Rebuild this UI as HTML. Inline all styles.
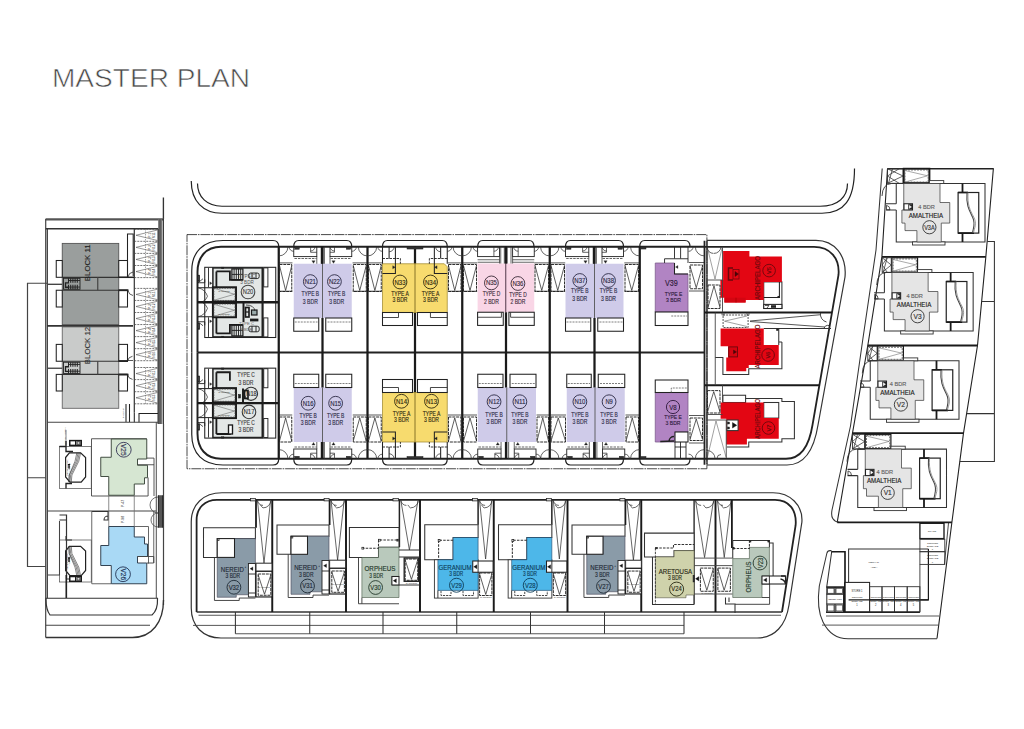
<!DOCTYPE html>
<html><head><meta charset="utf-8"><title>Master Plan</title>
<style>
html,body{margin:0;padding:0;background:#fff;}
body{width:1024px;height:729px;overflow:hidden;font-family:"Liberation Sans",sans-serif;}
svg{display:block;font-family:"Liberation Sans",sans-serif;}
</style></head><body>
<svg width="1024" height="729" viewBox="0 0 1024 729">
<rect width="1024" height="729" fill="#fff"/>
<text x="52" y="87" font-size="25.6" fill="#4a4a4a" stroke="#fff" stroke-width="0.6" paint-order="fill stroke" textLength="198" lengthAdjust="spacingAndGlyphs">MASTER PLAN</text>
<path d="M197.5,183.5 C197.5,197 207,206.25 222,206.25 H820 C838,206.25 847.5,197 847.5,183.5" fill="none" stroke="#222" stroke-width="1.20" />
<path d="M191.25,181 C191.25,201 203,213.25 222,213.25 H822 C844,213.25 854.5,200 854.5,168.5" fill="none" stroke="#222" stroke-width="1.20" />
<rect x="187.00" y="234.60" width="519.90" height="234.15" fill="none" stroke="#222" stroke-width="0.83" stroke-dasharray="10 0.9 1.6 0.9"/>
<path d="M197.5,352.5 V272 C197.5,257 206,246.75 221,246.75 H705" fill="none" stroke="#222" stroke-width="1.95" />
<path d="M197.5,352.5 V433.5 C197.5,448.5 206,458.75 221,458.75 H705" fill="none" stroke="#222" stroke-width="1.95" />
<path d="M191.75,352.5 V271 C191.75,252 203,240.5 223,240.5 H273 Q278.75,240.5 278.75,246.75" fill="none" stroke="#222" stroke-width="1.20" />
<path d="M191.75,352.5 V434.5 C191.75,453.5 203,465 223,465 H273 Q278.75,465 278.75,458.75" fill="none" stroke="#222" stroke-width="1.20" />
<path d="M293.75,246.75 Q293.75,240.5 298.75,240.5 H346.75 Q351.75,240.5 351.75,246.75" fill="none" stroke="#222" stroke-width="1.20" />
<path d="M293.75,458.75 Q293.75,465 298.75,465 H346.75 Q351.75,465 351.75,458.75" fill="none" stroke="#222" stroke-width="1.20" />
<path d="M382.5,246.75 Q382.5,240.5 387.5,240.5 H442.25 Q447.25,240.5 447.25,246.75" fill="none" stroke="#222" stroke-width="1.20" />
<path d="M382.5,458.75 Q382.5,465 387.5,465 H442.25 Q447.25,465 447.25,458.75" fill="none" stroke="#222" stroke-width="1.20" />
<path d="M477.75,246.75 Q477.75,240.5 482.75,240.5 H529 Q534,240.5 534,246.75" fill="none" stroke="#222" stroke-width="1.20" />
<path d="M477.75,458.75 Q477.75,465 482.75,465 H529 Q534,465 534,458.75" fill="none" stroke="#222" stroke-width="1.20" />
<path d="M565.5,246.75 Q565.5,240.5 570.5,240.5 H618.5 Q623.5,240.5 623.5,246.75" fill="none" stroke="#222" stroke-width="1.20" />
<path d="M565.5,458.75 Q565.5,465 570.5,465 H618.5 Q623.5,465 623.5,458.75" fill="none" stroke="#222" stroke-width="1.20" />
<path d="M639.75,246.75 Q639.75,240.5 644.75,240.5 H685 Q690,240.5 690,246.75" fill="none" stroke="#222" stroke-width="1.20" />
<path d="M639.75,458.75 Q639.75,465 644.75,465 H685 Q690,465 690,458.75" fill="none" stroke="#222" stroke-width="1.20" />
<line x1="197.5" y1="352.5" x2="705" y2="352.5" stroke="#222" stroke-width="1.80" />
<line x1="278.75" y1="246.75" x2="278.75" y2="458.75" stroke="#1a1a1a" stroke-width="2.25" />
<line x1="322.5" y1="246.75" x2="322.5" y2="458.75" stroke="#1a1a1a" stroke-width="2.25" />
<line x1="367.5" y1="246.75" x2="367.5" y2="458.75" stroke="#1a1a1a" stroke-width="2.25" />
<line x1="415" y1="246.75" x2="415" y2="458.75" stroke="#1a1a1a" stroke-width="2.25" />
<line x1="462.25" y1="246.75" x2="462.25" y2="458.75" stroke="#1a1a1a" stroke-width="2.25" />
<line x1="506" y1="246.75" x2="506" y2="458.75" stroke="#1a1a1a" stroke-width="2.25" />
<line x1="549.75" y1="246.75" x2="549.75" y2="458.75" stroke="#1a1a1a" stroke-width="2.25" />
<line x1="594.5" y1="246.75" x2="594.5" y2="458.75" stroke="#1a1a1a" stroke-width="2.25" />
<line x1="639.75" y1="246.75" x2="639.75" y2="458.75" stroke="#1a1a1a" stroke-width="2.25" />
<line x1="704.5" y1="240.75" x2="704.5" y2="464.75" stroke="#222" stroke-width="1.80" />
<line x1="707" y1="240.75" x2="707" y2="464.75" stroke="#222" stroke-width="1.20" />
<rect x="293.75" y="263.75" width="58.00" height="54.25" fill="#cfcbe9"/>
<line x1="322.5" y1="263.75" x2="322.5" y2="318" stroke="#555" stroke-width="0.90" />
<rect x="293.75" y="318.00" width="25.00" height="13.25" fill="#fff" stroke="#222" stroke-width="1.05" />
<rect x="325.75" y="318.00" width="26.00" height="13.25" fill="#fff" stroke="#222" stroke-width="1.05" />
<line x1="294.75" y1="322" x2="317.5" y2="322" stroke="#555" stroke-width="0.75" stroke-dasharray="2 1"/>
<line x1="327.5" y1="322" x2="350.75" y2="322" stroke="#555" stroke-width="0.75" stroke-dasharray="2 1"/>
<rect x="293.75" y="246.75" width="23.05" height="9.85" fill="none" stroke="#222" stroke-width="0.90" />
<rect x="330.00" y="246.75" width="21.75" height="9.85" fill="none" stroke="#222" stroke-width="0.90" />
<path d="M310.6,246.75 V252.3 H316.8 M334.5,246.75 V252.3 H330.0 M310.6,251.05 a4.3,4.3 0 0 0 4.3,-4.3 M334.5,251.05 a4.3,4.3 0 0 1 -4.3,-4.3" fill="none" stroke="#333" stroke-width="0.75" />
<path d="M294.45,258.5 H316.5 M330.5,258.5 H351.05" fill="none" stroke="#333" stroke-width="0.75" stroke-dasharray="2.5 1"/>
<path d="M316.8,256.6 V263.75 M330.0,256.6 V263.75 M324.4,246.75 V263.75" fill="none" stroke="#333" stroke-width="0.75" />
<line x1="321.9" y1="246.75" x2="321.9" y2="263.75" stroke="#1a1a1a" stroke-width="2.25" />
<rect x="294.75" y="247.25" width="4.50" height="2.00" fill="#333" stroke="#222" stroke-width="0.45" />
<rect x="346.25" y="247.25" width="4.50" height="2.00" fill="#333" stroke="#222" stroke-width="0.45" />
<path d="M311.9,260.75 l1.6,2.6 l1.6,-2.6 z" fill="#222" stroke="#222" stroke-width="0.30" />
<path d="M331.9,260.75 l1.6,2.6 l1.6,-2.6 z" fill="#222" stroke="#222" stroke-width="0.30" />
<circle cx="310.325" cy="281.6" r="6.9" fill="none" stroke="#2c2a45" stroke-width="0.90"/>
<text x="310.325" y="284.12" font-size="7" fill="#2c2a45" stroke="#2c2a45" stroke-width="0.15" text-anchor="middle" font-weight="normal" textLength="11.0" lengthAdjust="spacingAndGlyphs">N21</text>
<text x="310.325" y="296.392" font-size="7.2" fill="#2c2a45" stroke="#2c2a45" stroke-width="0.15" text-anchor="middle" font-weight="normal" textLength="17.5" lengthAdjust="spacingAndGlyphs">TYPE B</text>
<text x="310.325" y="303.592" font-size="7.2" fill="#2c2a45" stroke="#2c2a45" stroke-width="0.15" text-anchor="middle" font-weight="normal" textLength="15.0" lengthAdjust="spacingAndGlyphs">3 BDR</text>
<circle cx="334.425" cy="281.6" r="6.9" fill="none" stroke="#2c2a45" stroke-width="0.90"/>
<text x="334.425" y="284.12" font-size="7" fill="#2c2a45" stroke="#2c2a45" stroke-width="0.15" text-anchor="middle" font-weight="normal" textLength="11.0" lengthAdjust="spacingAndGlyphs">N22</text>
<text x="336.625" y="296.392" font-size="7.2" fill="#2c2a45" stroke="#2c2a45" stroke-width="0.15" text-anchor="middle" font-weight="normal" textLength="17.5" lengthAdjust="spacingAndGlyphs">TYPE B</text>
<text x="336.625" y="303.592" font-size="7.2" fill="#2c2a45" stroke="#2c2a45" stroke-width="0.15" text-anchor="middle" font-weight="normal" textLength="15.0" lengthAdjust="spacingAndGlyphs">3 BDR</text>
<rect x="565.50" y="263.75" width="58.00" height="54.25" fill="#cfcbe9"/>
<line x1="594.5" y1="263.75" x2="594.5" y2="318" stroke="#555" stroke-width="0.90" />
<rect x="565.50" y="318.00" width="25.25" height="13.25" fill="#fff" stroke="#222" stroke-width="1.05" />
<rect x="597.75" y="318.00" width="25.75" height="13.25" fill="#fff" stroke="#222" stroke-width="1.05" />
<line x1="566.5" y1="322" x2="589.5" y2="322" stroke="#555" stroke-width="0.75" stroke-dasharray="2 1"/>
<line x1="599.5" y1="322" x2="622.5" y2="322" stroke="#555" stroke-width="0.75" stroke-dasharray="2 1"/>
<rect x="565.50" y="246.75" width="23.30" height="9.85" fill="none" stroke="#222" stroke-width="0.90" />
<rect x="602.00" y="246.75" width="21.50" height="9.85" fill="none" stroke="#222" stroke-width="0.90" />
<path d="M582.6,246.75 V252.3 H588.8 M606.5,246.75 V252.3 H602.0 M582.6,251.05 a4.3,4.3 0 0 0 4.3,-4.3 M606.5,251.05 a4.3,4.3 0 0 1 -4.3,-4.3" fill="none" stroke="#333" stroke-width="0.75" />
<path d="M566.2,258.5 H588.5 M602.5,258.5 H622.8" fill="none" stroke="#333" stroke-width="0.75" stroke-dasharray="2.5 1"/>
<path d="M588.8,256.6 V263.75 M602.0,256.6 V263.75 M596.4,246.75 V263.75" fill="none" stroke="#333" stroke-width="0.75" />
<line x1="593.9" y1="246.75" x2="593.9" y2="263.75" stroke="#1a1a1a" stroke-width="2.25" />
<rect x="566.50" y="247.25" width="4.50" height="2.00" fill="#333" stroke="#222" stroke-width="0.45" />
<rect x="618.00" y="247.25" width="4.50" height="2.00" fill="#333" stroke="#222" stroke-width="0.45" />
<path d="M583.9,260.75 l1.6,2.6 l1.6,-2.6 z" fill="#222" stroke="#222" stroke-width="0.30" />
<path d="M603.9,260.75 l1.6,2.6 l1.6,-2.6 z" fill="#222" stroke="#222" stroke-width="0.30" />
<circle cx="579.8" cy="280.5" r="6.9" fill="none" stroke="#2c2a45" stroke-width="0.90"/>
<text x="579.8" y="283.02" font-size="7" fill="#2c2a45" stroke="#2c2a45" stroke-width="0.15" text-anchor="middle" font-weight="normal" textLength="11.0" lengthAdjust="spacingAndGlyphs">N37</text>
<text x="579.8" y="293.392" font-size="7.2" fill="#2c2a45" stroke="#2c2a45" stroke-width="0.15" text-anchor="middle" font-weight="normal" textLength="17.5" lengthAdjust="spacingAndGlyphs">TYPE B</text>
<text x="579.8" y="300.892" font-size="7.2" fill="#2c2a45" stroke="#2c2a45" stroke-width="0.15" text-anchor="middle" font-weight="normal" textLength="15.0" lengthAdjust="spacingAndGlyphs">3 BDR</text>
<circle cx="608.5" cy="280.5" r="6.9" fill="none" stroke="#2c2a45" stroke-width="0.90"/>
<text x="608.5" y="283.02" font-size="7" fill="#2c2a45" stroke="#2c2a45" stroke-width="0.15" text-anchor="middle" font-weight="normal" textLength="11.0" lengthAdjust="spacingAndGlyphs">N38</text>
<text x="608.5" y="293.392" font-size="7.2" fill="#2c2a45" stroke="#2c2a45" stroke-width="0.15" text-anchor="middle" font-weight="normal" textLength="17.5" lengthAdjust="spacingAndGlyphs">TYPE B</text>
<text x="608.5" y="300.892" font-size="7.2" fill="#2c2a45" stroke="#2c2a45" stroke-width="0.15" text-anchor="middle" font-weight="normal" textLength="15.0" lengthAdjust="spacingAndGlyphs">3 BDR</text>
<rect x="293.75" y="387.50" width="58.00" height="54.50" fill="#cfcbe9"/>
<line x1="322.5" y1="387.5" x2="322.5" y2="442" stroke="#555" stroke-width="0.90" />
<rect x="293.75" y="374.25" width="25.00" height="13.25" fill="#fff" stroke="#222" stroke-width="1.05" />
<rect x="325.75" y="374.25" width="26.00" height="13.25" fill="#fff" stroke="#222" stroke-width="1.05" />
<line x1="294.75" y1="383.5" x2="317.5" y2="383.5" stroke="#555" stroke-width="0.75" stroke-dasharray="2 1"/>
<line x1="327.5" y1="383.5" x2="350.75" y2="383.5" stroke="#555" stroke-width="0.75" stroke-dasharray="2 1"/>
<rect x="293.75" y="449.00" width="23.05" height="9.75" fill="none" stroke="#222" stroke-width="0.90" />
<rect x="330.00" y="449.00" width="21.75" height="9.75" fill="none" stroke="#222" stroke-width="0.90" />
<path d="M310.6,458.75 V453.2 H316.8 M334.5,458.75 V453.2 H330.0 M310.6,454.45 a4.3,4.3 0 0 1 4.3,4.3 M334.5,454.45 a4.3,4.3 0 0 0 -4.3,4.3" fill="none" stroke="#333" stroke-width="0.75" />
<path d="M294.45,447 H316.5 M330.5,447 H351.05" fill="none" stroke="#333" stroke-width="0.75" stroke-dasharray="2.5 1"/>
<path d="M316.8,449 V442 M330.0,449 V442 M324.4,458.75 V442" fill="none" stroke="#333" stroke-width="0.75" />
<line x1="321.9" y1="458.75" x2="321.9" y2="442" stroke="#1a1a1a" stroke-width="2.25" />
<rect x="294.75" y="456.25" width="4.50" height="2.00" fill="#333" stroke="#222" stroke-width="0.45" />
<rect x="346.25" y="456.25" width="4.50" height="2.00" fill="#333" stroke="#222" stroke-width="0.45" />
<path d="M311.9,445 l1.6,-2.6 l1.6,2.6 z" fill="#222" stroke="#222" stroke-width="0.30" />
<path d="M331.9,445 l1.6,-2.6 l1.6,2.6 z" fill="#222" stroke="#222" stroke-width="0.30" />
<circle cx="308.125" cy="403.25" r="6.9" fill="none" stroke="#2c2a45" stroke-width="0.90"/>
<text x="308.125" y="405.77" font-size="7" fill="#2c2a45" stroke="#2c2a45" stroke-width="0.15" text-anchor="middle" font-weight="normal" textLength="11.0" lengthAdjust="spacingAndGlyphs">N16</text>
<text x="308.125" y="418.042" font-size="7.2" fill="#2c2a45" stroke="#2c2a45" stroke-width="0.15" text-anchor="middle" font-weight="normal" textLength="17.5" lengthAdjust="spacingAndGlyphs">TYPE B</text>
<text x="308.125" y="425.142" font-size="7.2" fill="#2c2a45" stroke="#2c2a45" stroke-width="0.15" text-anchor="middle" font-weight="normal" textLength="15.0" lengthAdjust="spacingAndGlyphs">3 BDR</text>
<circle cx="335.625" cy="403.25" r="6.9" fill="none" stroke="#2c2a45" stroke-width="0.90"/>
<text x="335.625" y="405.77" font-size="7" fill="#2c2a45" stroke="#2c2a45" stroke-width="0.15" text-anchor="middle" font-weight="normal" textLength="11.0" lengthAdjust="spacingAndGlyphs">N15</text>
<text x="335.625" y="418.042" font-size="7.2" fill="#2c2a45" stroke="#2c2a45" stroke-width="0.15" text-anchor="middle" font-weight="normal" textLength="17.5" lengthAdjust="spacingAndGlyphs">TYPE B</text>
<text x="335.625" y="425.142" font-size="7.2" fill="#2c2a45" stroke="#2c2a45" stroke-width="0.15" text-anchor="middle" font-weight="normal" textLength="15.0" lengthAdjust="spacingAndGlyphs">3 BDR</text>
<rect x="477.75" y="387.50" width="58.25" height="54.50" fill="#cfcbe9"/>
<line x1="506.75" y1="387.5" x2="506.75" y2="442" stroke="#555" stroke-width="0.90" />
<rect x="477.75" y="374.25" width="25.25" height="13.25" fill="#fff" stroke="#222" stroke-width="1.05" />
<rect x="510.00" y="374.25" width="26.00" height="13.25" fill="#fff" stroke="#222" stroke-width="1.05" />
<line x1="478.75" y1="383.5" x2="501.75" y2="383.5" stroke="#555" stroke-width="0.75" stroke-dasharray="2 1"/>
<line x1="511.75" y1="383.5" x2="535" y2="383.5" stroke="#555" stroke-width="0.75" stroke-dasharray="2 1"/>
<rect x="477.75" y="449.00" width="23.30" height="9.75" fill="none" stroke="#222" stroke-width="0.90" />
<rect x="514.25" y="449.00" width="21.75" height="9.75" fill="none" stroke="#222" stroke-width="0.90" />
<path d="M494.85,458.75 V453.2 H501.05 M518.75,458.75 V453.2 H514.25 M494.85,454.45 a4.3,4.3 0 0 1 4.3,4.3 M518.75,454.45 a4.3,4.3 0 0 0 -4.3,4.3" fill="none" stroke="#333" stroke-width="0.75" />
<path d="M478.45,447 H500.75 M514.75,447 H535.3" fill="none" stroke="#333" stroke-width="0.75" stroke-dasharray="2.5 1"/>
<path d="M501.05,449 V442 M514.25,449 V442 M508.65,458.75 V442" fill="none" stroke="#333" stroke-width="0.75" />
<line x1="506.15" y1="458.75" x2="506.15" y2="442" stroke="#1a1a1a" stroke-width="2.25" />
<rect x="478.75" y="456.25" width="4.50" height="2.00" fill="#333" stroke="#222" stroke-width="0.45" />
<rect x="530.50" y="456.25" width="4.50" height="2.00" fill="#333" stroke="#222" stroke-width="0.45" />
<path d="M496.15,445 l1.6,-2.6 l1.6,2.6 z" fill="#222" stroke="#222" stroke-width="0.30" />
<path d="M516.15,445 l1.6,-2.6 l1.6,2.6 z" fill="#222" stroke="#222" stroke-width="0.30" />
<circle cx="494.05" cy="401.75" r="6.9" fill="none" stroke="#2c2a45" stroke-width="0.90"/>
<text x="494.05" y="404.27" font-size="7" fill="#2c2a45" stroke="#2c2a45" stroke-width="0.15" text-anchor="middle" font-weight="normal" textLength="11.0" lengthAdjust="spacingAndGlyphs">N12</text>
<text x="494.05" y="417.042" font-size="7.2" fill="#2c2a45" stroke="#2c2a45" stroke-width="0.15" text-anchor="middle" font-weight="normal" textLength="17.5" lengthAdjust="spacingAndGlyphs">TYPE B</text>
<text x="494.05" y="423.842" font-size="7.2" fill="#2c2a45" stroke="#2c2a45" stroke-width="0.15" text-anchor="middle" font-weight="normal" textLength="15.0" lengthAdjust="spacingAndGlyphs">3 BDR</text>
<circle cx="519.875" cy="401.75" r="6.9" fill="none" stroke="#2c2a45" stroke-width="0.90"/>
<text x="519.875" y="404.27" font-size="7" fill="#2c2a45" stroke="#2c2a45" stroke-width="0.15" text-anchor="middle" font-weight="normal" textLength="11.0" lengthAdjust="spacingAndGlyphs">N11</text>
<text x="519.875" y="417.042" font-size="7.2" fill="#2c2a45" stroke="#2c2a45" stroke-width="0.15" text-anchor="middle" font-weight="normal" textLength="17.5" lengthAdjust="spacingAndGlyphs">TYPE B</text>
<text x="519.875" y="423.842" font-size="7.2" fill="#2c2a45" stroke="#2c2a45" stroke-width="0.15" text-anchor="middle" font-weight="normal" textLength="15.0" lengthAdjust="spacingAndGlyphs">3 BDR</text>
<rect x="566.75" y="387.50" width="58.00" height="54.50" fill="#cfcbe9"/>
<line x1="595" y1="387.5" x2="595" y2="442" stroke="#555" stroke-width="0.90" />
<rect x="566.75" y="374.25" width="24.50" height="13.25" fill="#fff" stroke="#222" stroke-width="1.05" />
<rect x="598.25" y="374.25" width="26.50" height="13.25" fill="#fff" stroke="#222" stroke-width="1.05" />
<line x1="567.75" y1="383.5" x2="590" y2="383.5" stroke="#555" stroke-width="0.75" stroke-dasharray="2 1"/>
<line x1="600" y1="383.5" x2="623.75" y2="383.5" stroke="#555" stroke-width="0.75" stroke-dasharray="2 1"/>
<rect x="566.75" y="449.00" width="22.55" height="9.75" fill="none" stroke="#222" stroke-width="0.90" />
<rect x="602.50" y="449.00" width="22.25" height="9.75" fill="none" stroke="#222" stroke-width="0.90" />
<path d="M583.1,458.75 V453.2 H589.3 M607,458.75 V453.2 H602.5 M583.1,454.45 a4.3,4.3 0 0 1 4.3,4.3 M607,454.45 a4.3,4.3 0 0 0 -4.3,4.3" fill="none" stroke="#333" stroke-width="0.75" />
<path d="M567.45,447 H589 M603,447 H624.05" fill="none" stroke="#333" stroke-width="0.75" stroke-dasharray="2.5 1"/>
<path d="M589.3,449 V442 M602.5,449 V442 M596.9,458.75 V442" fill="none" stroke="#333" stroke-width="0.75" />
<line x1="594.4" y1="458.75" x2="594.4" y2="442" stroke="#1a1a1a" stroke-width="2.25" />
<rect x="567.75" y="456.25" width="4.50" height="2.00" fill="#333" stroke="#222" stroke-width="0.45" />
<rect x="619.25" y="456.25" width="4.50" height="2.00" fill="#333" stroke="#222" stroke-width="0.45" />
<path d="M584.4,445 l1.6,-2.6 l1.6,2.6 z" fill="#222" stroke="#222" stroke-width="0.30" />
<path d="M604.4,445 l1.6,-2.6 l1.6,2.6 z" fill="#222" stroke="#222" stroke-width="0.30" />
<circle cx="579.875" cy="401.75" r="6.9" fill="none" stroke="#2c2a45" stroke-width="0.90"/>
<text x="579.875" y="404.27" font-size="7" fill="#2c2a45" stroke="#2c2a45" stroke-width="0.15" text-anchor="middle" font-weight="normal" textLength="11.0" lengthAdjust="spacingAndGlyphs">N10</text>
<text x="579.875" y="417.042" font-size="7.2" fill="#2c2a45" stroke="#2c2a45" stroke-width="0.15" text-anchor="middle" font-weight="normal" textLength="17.5" lengthAdjust="spacingAndGlyphs">TYPE B</text>
<text x="579.875" y="423.842" font-size="7.2" fill="#2c2a45" stroke="#2c2a45" stroke-width="0.15" text-anchor="middle" font-weight="normal" textLength="15.0" lengthAdjust="spacingAndGlyphs">3 BDR</text>
<circle cx="609.075" cy="401.75" r="6.9" fill="none" stroke="#2c2a45" stroke-width="0.90"/>
<text x="609.075" y="404.27" font-size="7" fill="#2c2a45" stroke="#2c2a45" stroke-width="0.15" text-anchor="middle" font-weight="normal" textLength="7.4" lengthAdjust="spacingAndGlyphs">N9</text>
<text x="609.075" y="417.042" font-size="7.2" fill="#2c2a45" stroke="#2c2a45" stroke-width="0.15" text-anchor="middle" font-weight="normal" textLength="17.5" lengthAdjust="spacingAndGlyphs">TYPE B</text>
<text x="609.075" y="423.842" font-size="7.2" fill="#2c2a45" stroke="#2c2a45" stroke-width="0.15" text-anchor="middle" font-weight="normal" textLength="15.0" lengthAdjust="spacingAndGlyphs">3 BDR</text>
<path d="M382.5,263.75 H444.25 l3,3 V312.5 H382.5 Z" fill="#f7db6e" stroke="#a08a30" stroke-width="0.75" />
<line x1="415" y1="263.75" x2="415" y2="312.5" stroke="#7a6a20" stroke-width="0.90" />
<rect x="382.50" y="312.50" width="30.00" height="13.00" fill="#fff" stroke="#222" stroke-width="1.05" />
<rect x="417.50" y="312.50" width="29.75" height="13.00" fill="#fff" stroke="#222" stroke-width="1.05" />
<path d="M398.5,312.5 V317.5 H382.5 M430.45,312.5 V317.5 H447.25" fill="none" stroke="#333" stroke-width="0.90" />
<path d="M382.5,246.75 V263.75 M389.1,246.75 V258.5 M395.4,246.75 V273.5 H382.5" fill="none" stroke="#222" stroke-width="1.05" />
<path d="M447.25,246.75 V263.75 M440.65,246.75 V258.5 M434.35,246.75 V273.5 H447.25" fill="none" stroke="#222" stroke-width="1.05" />
<path d="M382.5,258.5 H400.4 V263.75 M447.25,258.5 H429.35 V263.75" fill="none" stroke="#222" stroke-width="0.90" stroke-dasharray="2.5 1"/>
<path d="M389.1,251.75 a5,5 0 0 0 5,-5 M440.65,251.75 a5,5 0 0 1 -5,-5" fill="none" stroke="#333" stroke-width="0.75" />
<path d="M392.7,265.65 l2.6,1.6 l-2.6,1.6 z" fill="#222" stroke="#222" stroke-width="0.30" />
<path d="M437.05,265.65 l-2.6,1.6 l2.6,1.6 z" fill="#222" stroke="#222" stroke-width="0.30" />
<rect x="407.00" y="247.05" width="16.00" height="2.00" fill="#333" stroke="#222" stroke-width="0.45" />
<circle cx="400.0" cy="282" r="6.9" fill="none" stroke="#2e2810" stroke-width="0.90"/>
<text x="400.0" y="284.52" font-size="7" fill="#2e2810" stroke="#2e2810" stroke-width="0.15" text-anchor="middle" font-weight="normal" textLength="11.0" lengthAdjust="spacingAndGlyphs">N33</text>
<text x="400.0" y="295.842" font-size="7.2" fill="#2e2810" stroke="#2e2810" stroke-width="0.15" text-anchor="middle" font-weight="normal" textLength="17.5" lengthAdjust="spacingAndGlyphs">TYPE A</text>
<text x="400.0" y="302.092" font-size="7.2" fill="#2e2810" stroke="#2e2810" stroke-width="0.15" text-anchor="middle" font-weight="normal" textLength="15.0" lengthAdjust="spacingAndGlyphs">3 BDR</text>
<circle cx="430.5" cy="282" r="6.9" fill="none" stroke="#2e2810" stroke-width="0.90"/>
<text x="430.5" y="284.52" font-size="7" fill="#2e2810" stroke="#2e2810" stroke-width="0.15" text-anchor="middle" font-weight="normal" textLength="11.0" lengthAdjust="spacingAndGlyphs">N34</text>
<text x="430.5" y="295.842" font-size="7.2" fill="#2e2810" stroke="#2e2810" stroke-width="0.15" text-anchor="middle" font-weight="normal" textLength="17.5" lengthAdjust="spacingAndGlyphs">TYPE A</text>
<text x="430.5" y="302.092" font-size="7.2" fill="#2e2810" stroke="#2e2810" stroke-width="0.15" text-anchor="middle" font-weight="normal" textLength="15.0" lengthAdjust="spacingAndGlyphs">3 BDR</text>
<path d="M382.5,392.5 H447.25 V442 H382.5 Z" fill="#f7db6e" stroke="#a08a30" stroke-width="0.75" />
<line x1="415" y1="392.5" x2="415" y2="442" stroke="#7a6a20" stroke-width="0.90" />
<rect x="382.50" y="379.50" width="30.00" height="13.00" fill="#fff" stroke="#222" stroke-width="1.05" />
<rect x="417.50" y="379.50" width="29.75" height="13.00" fill="#fff" stroke="#222" stroke-width="1.05" />
<path d="M398.5,392.5 V387.5 H382.5 M430.45,392.5 V387.5 H447.25" fill="none" stroke="#333" stroke-width="0.90" />
<path d="M382.5,458.75 V442 M389.1,458.75 V447 M395.4,458.75 V432 H382.5" fill="none" stroke="#222" stroke-width="1.05" />
<path d="M447.25,458.75 V442 M440.65,458.75 V447 M434.35,458.75 V432 H447.25" fill="none" stroke="#222" stroke-width="1.05" />
<path d="M382.5,447 H400.4 V442 M447.25,447 H429.35 V442" fill="none" stroke="#222" stroke-width="0.90" stroke-dasharray="2.5 1"/>
<path d="M389.1,453.75 a5,5 0 0 1 5,5 M440.65,453.75 a5,5 0 0 0 -5,5" fill="none" stroke="#333" stroke-width="0.75" />
<path d="M392.7,436.9 l2.6,1.6 l-2.6,1.6 z" fill="#222" stroke="#222" stroke-width="0.30" />
<path d="M437.05,436.9 l-2.6,1.6 l2.6,1.6 z" fill="#222" stroke="#222" stroke-width="0.30" />
<rect x="407.00" y="456.45" width="16.00" height="2.00" fill="#333" stroke="#222" stroke-width="0.45" />
<circle cx="401.5" cy="401.25" r="6.9" fill="none" stroke="#2e2810" stroke-width="0.90"/>
<text x="401.5" y="403.77" font-size="7" fill="#2e2810" stroke="#2e2810" stroke-width="0.15" text-anchor="middle" font-weight="normal" textLength="11.0" lengthAdjust="spacingAndGlyphs">N14</text>
<text x="401.5" y="415.592" font-size="7.2" fill="#2e2810" stroke="#2e2810" stroke-width="0.15" text-anchor="middle" font-weight="normal" textLength="17.5" lengthAdjust="spacingAndGlyphs">TYPE A</text>
<text x="401.5" y="422.092" font-size="7.2" fill="#2e2810" stroke="#2e2810" stroke-width="0.15" text-anchor="middle" font-weight="normal" textLength="15.0" lengthAdjust="spacingAndGlyphs">3 BDR</text>
<circle cx="431.5" cy="401.25" r="6.9" fill="none" stroke="#2e2810" stroke-width="0.90"/>
<text x="431.5" y="403.77" font-size="7" fill="#2e2810" stroke="#2e2810" stroke-width="0.15" text-anchor="middle" font-weight="normal" textLength="11.0" lengthAdjust="spacingAndGlyphs">N13</text>
<text x="431.5" y="415.592" font-size="7.2" fill="#2e2810" stroke="#2e2810" stroke-width="0.15" text-anchor="middle" font-weight="normal" textLength="17.5" lengthAdjust="spacingAndGlyphs">TYPE A</text>
<text x="431.5" y="422.092" font-size="7.2" fill="#2e2810" stroke="#2e2810" stroke-width="0.15" text-anchor="middle" font-weight="normal" textLength="15.0" lengthAdjust="spacingAndGlyphs">3 BDR</text>
<rect x="477.60" y="263.50" width="56.65" height="48.75" fill="#f9d6e6"/>
<line x1="505.75" y1="263.5" x2="505.75" y2="312.25" stroke="#5a4050" stroke-width="1.05" />
<rect x="477.60" y="312.25" width="25.65" height="13.15" fill="#fff" stroke="#222" stroke-width="1.05" />
<rect x="508.90" y="312.25" width="25.35" height="13.15" fill="#fff" stroke="#222" stroke-width="1.05" />
<path d="M477.6,317.25 H501.4 V312.25 M534.25,317.25 H510.6 V312.25" fill="none" stroke="#333" stroke-width="0.90" />
<rect x="477.60" y="246.75" width="21.90" height="9.85" fill="none" stroke="#222" stroke-width="0.90" />
<rect x="512.60" y="246.75" width="21.65" height="9.85" fill="none" stroke="#222" stroke-width="0.90" />
<path d="M477.6,259.75 H499.5 M477.6,262.25 H499.5 M512.6,259.75 H534.25 M512.6,262.25 H534.25" fill="none" stroke="#333" stroke-width="0.75" />
<path d="M499.5,256.6 V263.5 M512.6,256.6 V263.5 M500.75,246.75 V263.5 M504.3,246.75 V263.5 M507.2,246.75 V263.5 M511,246.75 V263.5" fill="none" stroke="#333" stroke-width="0.75" />
<path d="M493.9,246.75 V256.6 M518.2,246.75 V256.6 M493.9,251.25 a4.5,4.5 0 0 0 4.5,-4.5 M518.2,251.25 a4.5,4.5 0 0 1 -4.5,-4.5" fill="none" stroke="#333" stroke-width="0.75" />
<line x1="505.75" y1="246.75" x2="505.75" y2="263.5" stroke="#1a1a1a" stroke-width="2.10" />
<circle cx="491.4" cy="282.9" r="6.9" fill="none" stroke="#3a2a38" stroke-width="0.90"/>
<text x="491.4" y="285.41999999999996" font-size="7" fill="#3a2a38" stroke="#3a2a38" stroke-width="0.15" text-anchor="middle" font-weight="normal" textLength="11.0" lengthAdjust="spacingAndGlyphs">N35</text>
<text x="491.4" y="296.49199999999996" font-size="7.2" fill="#3a2a38" stroke="#3a2a38" stroke-width="0.15" text-anchor="middle" font-weight="normal" textLength="17.5" lengthAdjust="spacingAndGlyphs">TYPE D</text>
<text x="491.4" y="303.592" font-size="7.2" fill="#3a2a38" stroke="#3a2a38" stroke-width="0.15" text-anchor="middle" font-weight="normal" textLength="15.0" lengthAdjust="spacingAndGlyphs">2 BDR</text>
<circle cx="517.9" cy="283.5" r="6.9" fill="none" stroke="#3a2a38" stroke-width="0.90"/>
<text x="517.9" y="286.02" font-size="7" fill="#3a2a38" stroke="#3a2a38" stroke-width="0.15" text-anchor="middle" font-weight="normal" textLength="11.0" lengthAdjust="spacingAndGlyphs">N36</text>
<text x="517.9" y="296.842" font-size="7.2" fill="#3a2a38" stroke="#3a2a38" stroke-width="0.15" text-anchor="middle" font-weight="normal" textLength="17.5" lengthAdjust="spacingAndGlyphs">TYPE D</text>
<text x="517.9" y="304.49199999999996" font-size="7.2" fill="#3a2a38" stroke="#3a2a38" stroke-width="0.15" text-anchor="middle" font-weight="normal" textLength="15.0" lengthAdjust="spacingAndGlyphs">2 BDR</text>
<path d="M655.25,263 H674.5 V274 H688 V312 H655.25 Z" fill="#b184c3" stroke="#7a5a8a" stroke-width="0.75" />
<rect x="655.25" y="312.00" width="32.75" height="13.50" fill="#fff" stroke="#222" stroke-width="1.05" />
<line x1="671.25" y1="316" x2="687" y2="316" stroke="#555" stroke-width="0.75" stroke-dasharray="2 1"/>
<path d="M674.5,263 V274 H688" fill="none" stroke="#222" stroke-width="1.05" />
<path d="M664.55,263 V258.75 H688" fill="none" stroke="#222" stroke-width="0.90" />
<path d="M674.5,258.5 V246.75 M680.6,258.5 V246.75 M688,263 V246.75" fill="none" stroke="#222" stroke-width="0.90" />
<path d="M675.5,267 l2.4,-1.5 v3 z" fill="#222" stroke="#222" stroke-width="0.30" />
<text x="671.25" y="286.2" font-size="8.6" fill="#2e1a3c" stroke="#2e1a3c" stroke-width="0.15" text-anchor="middle" font-weight="normal" textLength="12.75" lengthAdjust="spacingAndGlyphs">V39</text>
<text x="673.5" y="296.3" font-size="6" fill="#2e1a3c" stroke="#2e1a3c" stroke-width="0.15" text-anchor="middle" font-weight="normal" textLength="17.5" lengthAdjust="spacingAndGlyphs">TYPE E</text>
<text x="673.5" y="301.7" font-size="6" fill="#2e1a3c" stroke="#2e1a3c" stroke-width="0.15" text-anchor="middle" font-weight="normal" textLength="15" lengthAdjust="spacingAndGlyphs">3 BDR</text>
<rect x="640.50" y="247.05" width="5.50" height="2.00" fill="#333" stroke="#222" stroke-width="0.45" />
<path d="M655.25,392.5 H688 V432 H675 V442 H655.25 Z" fill="#b184c3" stroke="#7a5a8a" stroke-width="0.75" />
<rect x="655.25" y="380.00" width="32.75" height="12.50" fill="#fff" stroke="#222" stroke-width="1.05" />
<path d="M671.25,392.5 V388 H687" fill="none" stroke="#555" stroke-width="0.75" stroke-dasharray="2 1"/>
<rect x="675.00" y="432.00" width="13.00" height="10.00" fill="#fff" stroke="#222" stroke-width="1.05" />
<path d="M660.25,441.5 L674,441 M669,441 a5,5 0 0 1 5,-4.5" fill="none" stroke="#222" stroke-width="1.35" />
<path d="M675,442 V458.75 M680.5,442 V458.75 M686,442 V458.75 M675,447 H686" fill="none" stroke="#222" stroke-width="0.90" />
<circle cx="673" cy="407" r="6.6" fill="none" stroke="#2e1a3c" stroke-width="0.90"/>
<text x="673" y="409.52" font-size="7" fill="#2e1a3c" stroke="#2e1a3c" stroke-width="0.15" text-anchor="middle" font-weight="normal" textLength="7.4" lengthAdjust="spacingAndGlyphs">V8</text>
<text x="673" y="419.232" font-size="6.2" fill="#2e1a3c" stroke="#2e1a3c" stroke-width="0.15" text-anchor="middle" font-weight="normal" textLength="17.5" lengthAdjust="spacingAndGlyphs">TYPE E</text>
<text x="673" y="425.482" font-size="6.2" fill="#2e1a3c" stroke="#2e1a3c" stroke-width="0.15" text-anchor="middle" font-weight="normal" textLength="15.0" lengthAdjust="spacingAndGlyphs">3 BDR</text>
<rect x="640.50" y="456.45" width="5.50" height="2.00" fill="#333" stroke="#222" stroke-width="0.45" />
<rect x="279.50" y="264.50" width="12.25" height="27.00" fill="none" stroke="#2a2a2a" stroke-width="0.98" stroke-dasharray="3 0.8"/>
<polyline points="279.50,265.50 285.62,290.50 291.75,265.50" fill="none" stroke="#2a2a2a" stroke-width="0.75"/>
<line x1="278.8" y1="291.2" x2="292.45" y2="291.2" stroke="#222" stroke-width="0.75" />
<line x1="278.8" y1="262.9" x2="292.45" y2="262.9" stroke="#222" stroke-width="0.75" />
<rect x="353.25" y="264.50" width="13.00" height="27.00" fill="none" stroke="#2a2a2a" stroke-width="0.98" stroke-dasharray="3 0.8"/>
<polyline points="353.25,265.50 359.75,290.50 366.25,265.50" fill="none" stroke="#2a2a2a" stroke-width="0.75"/>
<line x1="352.55" y1="291.2" x2="366.95" y2="291.2" stroke="#222" stroke-width="0.75" />
<line x1="352.55" y1="262.9" x2="366.95" y2="262.9" stroke="#222" stroke-width="0.75" />
<rect x="368.50" y="264.50" width="12.75" height="27.00" fill="none" stroke="#2a2a2a" stroke-width="0.98" stroke-dasharray="3 0.8"/>
<polyline points="368.50,265.50 374.88,290.50 381.25,265.50" fill="none" stroke="#2a2a2a" stroke-width="0.75"/>
<line x1="367.8" y1="291.2" x2="381.95" y2="291.2" stroke="#222" stroke-width="0.75" />
<line x1="367.8" y1="262.9" x2="381.95" y2="262.9" stroke="#222" stroke-width="0.75" />
<rect x="448.50" y="264.50" width="12.50" height="27.00" fill="none" stroke="#2a2a2a" stroke-width="0.98" stroke-dasharray="3 0.8"/>
<polyline points="448.50,265.50 454.75,290.50 461.00,265.50" fill="none" stroke="#2a2a2a" stroke-width="0.75"/>
<line x1="447.8" y1="291.2" x2="461.7" y2="291.2" stroke="#222" stroke-width="0.75" />
<line x1="447.8" y1="262.9" x2="461.7" y2="262.9" stroke="#222" stroke-width="0.75" />
<rect x="463.50" y="264.50" width="13.00" height="27.00" fill="none" stroke="#2a2a2a" stroke-width="0.98" stroke-dasharray="3 0.8"/>
<polyline points="463.50,265.50 470.00,290.50 476.50,265.50" fill="none" stroke="#2a2a2a" stroke-width="0.75"/>
<line x1="462.8" y1="291.2" x2="477.2" y2="291.2" stroke="#222" stroke-width="0.75" />
<line x1="462.8" y1="262.9" x2="477.2" y2="262.9" stroke="#222" stroke-width="0.75" />
<rect x="535.00" y="264.50" width="13.50" height="27.00" fill="none" stroke="#2a2a2a" stroke-width="0.98" stroke-dasharray="3 0.8"/>
<polyline points="535.00,265.50 541.75,290.50 548.50,265.50" fill="none" stroke="#2a2a2a" stroke-width="0.75"/>
<line x1="534.3" y1="291.2" x2="549.2" y2="291.2" stroke="#222" stroke-width="0.75" />
<line x1="534.3" y1="262.9" x2="549.2" y2="262.9" stroke="#222" stroke-width="0.75" />
<rect x="551.00" y="264.50" width="13.50" height="27.00" fill="none" stroke="#2a2a2a" stroke-width="0.98" stroke-dasharray="3 0.8"/>
<polyline points="551.00,265.50 557.75,290.50 564.50,265.50" fill="none" stroke="#2a2a2a" stroke-width="0.75"/>
<line x1="550.3" y1="291.2" x2="565.2" y2="291.2" stroke="#222" stroke-width="0.75" />
<line x1="550.3" y1="262.9" x2="565.2" y2="262.9" stroke="#222" stroke-width="0.75" />
<rect x="625.00" y="264.50" width="13.50" height="27.00" fill="none" stroke="#2a2a2a" stroke-width="0.98" stroke-dasharray="3 0.8"/>
<polyline points="625.00,265.50 631.75,290.50 638.50,265.50" fill="none" stroke="#2a2a2a" stroke-width="0.75"/>
<line x1="624.3" y1="291.2" x2="639.2" y2="291.2" stroke="#222" stroke-width="0.75" />
<line x1="624.3" y1="262.9" x2="639.2" y2="262.9" stroke="#222" stroke-width="0.75" />
<rect x="279.50" y="417.00" width="12.25" height="25.00" fill="none" stroke="#2a2a2a" stroke-width="0.98" stroke-dasharray="3 0.8"/>
<polyline points="279.50,441.00 285.62,418.00 291.75,441.00" fill="none" stroke="#2a2a2a" stroke-width="0.75"/>
<line x1="279.0" y1="415" x2="292.25" y2="415" stroke="#222" stroke-width="0.75" />
<rect x="353.25" y="417.00" width="13.00" height="25.00" fill="none" stroke="#2a2a2a" stroke-width="0.98" stroke-dasharray="3 0.8"/>
<polyline points="353.25,441.00 359.75,418.00 366.25,441.00" fill="none" stroke="#2a2a2a" stroke-width="0.75"/>
<line x1="352.75" y1="415" x2="366.75" y2="415" stroke="#222" stroke-width="0.75" />
<rect x="368.50" y="417.00" width="12.75" height="25.00" fill="none" stroke="#2a2a2a" stroke-width="0.98" stroke-dasharray="3 0.8"/>
<polyline points="368.50,441.00 374.88,418.00 381.25,441.00" fill="none" stroke="#2a2a2a" stroke-width="0.75"/>
<line x1="368.0" y1="415" x2="381.75" y2="415" stroke="#222" stroke-width="0.75" />
<rect x="448.50" y="417.00" width="12.50" height="25.00" fill="none" stroke="#2a2a2a" stroke-width="0.98" stroke-dasharray="3 0.8"/>
<polyline points="448.50,441.00 454.75,418.00 461.00,441.00" fill="none" stroke="#2a2a2a" stroke-width="0.75"/>
<line x1="448.0" y1="415" x2="461.5" y2="415" stroke="#222" stroke-width="0.75" />
<rect x="463.50" y="417.00" width="13.00" height="25.00" fill="none" stroke="#2a2a2a" stroke-width="0.98" stroke-dasharray="3 0.8"/>
<polyline points="463.50,441.00 470.00,418.00 476.50,441.00" fill="none" stroke="#2a2a2a" stroke-width="0.75"/>
<line x1="463.0" y1="415" x2="477.0" y2="415" stroke="#222" stroke-width="0.75" />
<rect x="537.00" y="417.00" width="11.50" height="25.00" fill="none" stroke="#2a2a2a" stroke-width="0.98" stroke-dasharray="3 0.8"/>
<polyline points="537.00,441.00 542.75,418.00 548.50,441.00" fill="none" stroke="#2a2a2a" stroke-width="0.75"/>
<line x1="536.5" y1="415" x2="549.0" y2="415" stroke="#222" stroke-width="0.75" />
<rect x="551.00" y="417.00" width="14.50" height="25.00" fill="none" stroke="#2a2a2a" stroke-width="0.98" stroke-dasharray="3 0.8"/>
<polyline points="551.00,441.00 558.25,418.00 565.50,441.00" fill="none" stroke="#2a2a2a" stroke-width="0.75"/>
<line x1="550.5" y1="415" x2="566.0" y2="415" stroke="#222" stroke-width="0.75" />
<rect x="626.00" y="417.00" width="12.50" height="25.00" fill="none" stroke="#2a2a2a" stroke-width="0.98" stroke-dasharray="3 0.8"/>
<polyline points="626.00,441.00 632.25,418.00 638.50,441.00" fill="none" stroke="#2a2a2a" stroke-width="0.75"/>
<line x1="625.5" y1="415" x2="639.0" y2="415" stroke="#222" stroke-width="0.75" />
<path d="M287.95,246.75 A9.2,9.2 0 0 1 278.75,255.95" fill="none" stroke="#333" stroke-width="0.75" />
<path d="M289.15,246.75 A4.6,4.6 0 0 0 293.75,251.35" fill="none" stroke="#333" stroke-width="0.75" />
<path d="M358.3,246.75 A9.2,9.2 0 0 0 367.5,255.95" fill="none" stroke="#333" stroke-width="0.75" />
<path d="M356.35,246.75 A4.6,4.6 0 0 1 351.75,251.35" fill="none" stroke="#333" stroke-width="0.75" />
<path d="M376.7,246.75 A9.2,9.2 0 0 1 367.5,255.95" fill="none" stroke="#333" stroke-width="0.75" />
<path d="M377.9,246.75 A4.6,4.6 0 0 0 382.5,251.35" fill="none" stroke="#333" stroke-width="0.75" />
<path d="M453.05,246.75 A9.2,9.2 0 0 0 462.25,255.95" fill="none" stroke="#333" stroke-width="0.75" />
<path d="M451.85,246.75 A4.6,4.6 0 0 1 447.25,251.35" fill="none" stroke="#333" stroke-width="0.75" />
<path d="M471.45,246.75 A9.2,9.2 0 0 1 462.25,255.95" fill="none" stroke="#333" stroke-width="0.75" />
<path d="M473.15,246.75 A4.6,4.6 0 0 0 477.75,251.35" fill="none" stroke="#333" stroke-width="0.75" />
<path d="M540.55,246.75 A9.2,9.2 0 0 0 549.75,255.95" fill="none" stroke="#333" stroke-width="0.75" />
<path d="M538.6,246.75 A4.6,4.6 0 0 1 534,251.35" fill="none" stroke="#333" stroke-width="0.75" />
<path d="M558.95,246.75 A9.2,9.2 0 0 1 549.75,255.95" fill="none" stroke="#333" stroke-width="0.75" />
<path d="M560.9,246.75 A4.6,4.6 0 0 0 565.5,251.35" fill="none" stroke="#333" stroke-width="0.75" />
<path d="M630.55,246.75 A9.2,9.2 0 0 0 639.75,255.95" fill="none" stroke="#333" stroke-width="0.75" />
<path d="M628.1,246.75 A4.6,4.6 0 0 1 623.5,251.35" fill="none" stroke="#333" stroke-width="0.75" />
<path d="M695.3,246.75 A9.2,9.2 0 0 0 704.5,255.95" fill="none" stroke="#333" stroke-width="0.75" />
<path d="M693.1,246.75 A4.6,4.6 0 0 1 688.5,251.35" fill="none" stroke="#333" stroke-width="0.75" />
<path d="M287.95,458.75 A9.2,9.2 0 0 0 278.75,449.55" fill="none" stroke="#333" stroke-width="0.75" />
<path d="M289.15,458.75 A4.6,4.6 0 0 1 293.75,454.15" fill="none" stroke="#333" stroke-width="0.75" />
<path d="M358.3,458.75 A9.2,9.2 0 0 1 367.5,449.55" fill="none" stroke="#333" stroke-width="0.75" />
<path d="M356.35,458.75 A4.6,4.6 0 0 0 351.75,454.15" fill="none" stroke="#333" stroke-width="0.75" />
<path d="M376.7,458.75 A9.2,9.2 0 0 0 367.5,449.55" fill="none" stroke="#333" stroke-width="0.75" />
<path d="M377.9,458.75 A4.6,4.6 0 0 1 382.5,454.15" fill="none" stroke="#333" stroke-width="0.75" />
<path d="M453.05,458.75 A9.2,9.2 0 0 1 462.25,449.55" fill="none" stroke="#333" stroke-width="0.75" />
<path d="M451.85,458.75 A4.6,4.6 0 0 0 447.25,454.15" fill="none" stroke="#333" stroke-width="0.75" />
<path d="M471.45,458.75 A9.2,9.2 0 0 0 462.25,449.55" fill="none" stroke="#333" stroke-width="0.75" />
<path d="M473.15,458.75 A4.6,4.6 0 0 1 477.75,454.15" fill="none" stroke="#333" stroke-width="0.75" />
<path d="M540.55,458.75 A9.2,9.2 0 0 1 549.75,449.55" fill="none" stroke="#333" stroke-width="0.75" />
<path d="M540.6,458.75 A4.6,4.6 0 0 0 536,454.15" fill="none" stroke="#333" stroke-width="0.75" />
<path d="M558.95,458.75 A9.2,9.2 0 0 0 549.75,449.55" fill="none" stroke="#333" stroke-width="0.75" />
<path d="M562.15,458.75 A4.6,4.6 0 0 1 566.75,454.15" fill="none" stroke="#333" stroke-width="0.75" />
<path d="M630.55,458.75 A9.2,9.2 0 0 1 639.75,449.55" fill="none" stroke="#333" stroke-width="0.75" />
<path d="M629.35,458.75 A4.6,4.6 0 0 0 624.75,454.15" fill="none" stroke="#333" stroke-width="0.75" />
<path d="M695.3,458.75 A9.2,9.2 0 0 1 704.5,449.55" fill="none" stroke="#333" stroke-width="0.75" />
<path d="M693.1,458.75 A4.6,4.6 0 0 0 688.5,454.15" fill="none" stroke="#333" stroke-width="0.75" />
<rect x="690.00" y="265.00" width="12.50" height="23.75" fill="none" stroke="#2a2a2a" stroke-width="0.98" stroke-dasharray="3 0.8"/>
<polyline points="690.00,266.00 696.25,287.75 702.50,266.00" fill="none" stroke="#2a2a2a" stroke-width="0.75"/>
<line x1="689" y1="262.5" x2="704" y2="262.5" stroke="#222" stroke-width="0.75" />
<line x1="689" y1="291" x2="704" y2="291" stroke="#222" stroke-width="0.75" />
<rect x="690.00" y="418.00" width="12.50" height="22.50" fill="none" stroke="#2a2a2a" stroke-width="0.98" stroke-dasharray="3 0.8"/>
<polyline points="690.00,439.50 696.25,419.00 702.50,439.50" fill="none" stroke="#2a2a2a" stroke-width="0.75"/>
<line x1="689" y1="415.5" x2="704" y2="415.5" stroke="#222" stroke-width="0.75" />
<line x1="689" y1="443" x2="704" y2="443" stroke="#222" stroke-width="0.75" />
<rect x="204.75" y="267.30" width="71.00" height="70.20" fill="#fff" stroke="#222" stroke-width="1.05" />
<rect x="212.90" y="267.90" width="49.35" height="69.00" fill="#e3e7e6"/>
<rect x="212.90" y="267.90" width="49.35" height="69.00" fill="none" stroke="#222" stroke-width="1.50" />
<line x1="197.25" y1="302.25" x2="278.5" y2="302.25" stroke="#1a1a1a" stroke-width="2.40" />
<line x1="262.9" y1="267.9" x2="262.9" y2="336.9" stroke="#222" stroke-width="1.50" />
<rect x="263.75" y="267.90" width="4.15" height="19.00" fill="none" stroke="#222" stroke-width="0.90" />
<rect x="263.75" y="317.90" width="4.15" height="19.00" fill="none" stroke="#222" stroke-width="0.90" />
<line x1="208.5" y1="267.9" x2="208.5" y2="287.25" stroke="#222" stroke-width="0.90" />
<line x1="208.5" y1="317.25" x2="208.5" y2="336.9" stroke="#222" stroke-width="0.90" />
<rect x="212.90" y="287.25" width="23.10" height="14.20" fill="#e3e7e6" stroke="#1a1a1a" stroke-width="1.95" />
<rect x="213.90" y="288.25" width="21.10" height="12.20" fill="none" stroke="#444" stroke-width="0.75" stroke-dasharray="1.6 1"/>
<rect x="212.90" y="303.05" width="23.10" height="14.20" fill="#e3e7e6" stroke="#1a1a1a" stroke-width="1.95" />
<rect x="213.90" y="304.05" width="21.10" height="12.20" fill="none" stroke="#444" stroke-width="0.75" stroke-dasharray="1.6 1"/>
<polyline points="213.9,288.25 234.5,294.25 213.9,300.25" fill="none" stroke="#555" stroke-width="0.5"/>
<polyline points="213.9,316.25 234.5,310.25 213.9,304.25" fill="none" stroke="#555" stroke-width="0.5"/>
<text x="224" y="292.05" font-size="2.4" fill="#333" text-anchor="middle" font-weight="normal" >CARPORT</text>
<text x="224" y="314.85" font-size="2.4" fill="#333" text-anchor="middle" font-weight="normal" >CARPORT</text>
<path d="M216.4,271.4 H229.9 V279.9 H242.9 M216.4,271.4 V287.25" fill="none" stroke="#1a1a1a" stroke-width="1.80" />
<path d="M216.4,333.4 H229.9 V324.9 H242.9 M216.4,333.4 V317.25" fill="none" stroke="#1a1a1a" stroke-width="1.80" />
<rect x="231.90" y="268.90" width="11.00" height="11.00" fill="none" stroke="#1a1a1a" stroke-width="1.20" />
<line x1="234.1" y1="268.9" x2="234.1" y2="279.9" stroke="#1a1a1a" stroke-width="0.90" />
<line x1="236.3" y1="268.9" x2="236.3" y2="279.9" stroke="#1a1a1a" stroke-width="0.90" />
<line x1="238.5" y1="268.9" x2="238.5" y2="279.9" stroke="#1a1a1a" stroke-width="0.90" />
<line x1="240.70000000000002" y1="268.9" x2="240.70000000000002" y2="279.9" stroke="#1a1a1a" stroke-width="0.90" />
<line x1="231.9" y1="274.4" x2="242.9" y2="274.4" stroke="#1a1a1a" stroke-width="0.90" />
<rect x="231.90" y="324.90" width="11.00" height="11.00" fill="none" stroke="#1a1a1a" stroke-width="1.20" />
<line x1="234.1" y1="324.9" x2="234.1" y2="335.9" stroke="#1a1a1a" stroke-width="0.90" />
<line x1="236.3" y1="324.9" x2="236.3" y2="335.9" stroke="#1a1a1a" stroke-width="0.90" />
<line x1="238.5" y1="324.9" x2="238.5" y2="335.9" stroke="#1a1a1a" stroke-width="0.90" />
<line x1="240.70000000000002" y1="324.9" x2="240.70000000000002" y2="335.9" stroke="#1a1a1a" stroke-width="0.90" />
<line x1="231.9" y1="330.4" x2="242.9" y2="330.4" stroke="#1a1a1a" stroke-width="0.90" />
<rect x="221.40" y="267.10" width="2.50" height="1.60" fill="#222" stroke="#222" stroke-width="0.30" />
<rect x="221.40" y="336.10" width="2.50" height="1.60" fill="#222" stroke="#222" stroke-width="0.30" />
<path d="M209.8,281.85 l2.2,1.4 l-2.2,1.4 z" fill="#333" stroke="#333" stroke-width="0.30" />
<path d="M209.8,319.85 l2.2,1.4 l-2.2,1.4 z" fill="#333" stroke="#333" stroke-width="0.30" />
<line x1="197.5" y1="287.75" x2="212.9" y2="287.75" stroke="#222" stroke-width="1.05" />
<line x1="197.5" y1="316.75" x2="212.9" y2="316.75" stroke="#222" stroke-width="1.05" />
<path d="M198,287.75 A13,13 0 0 1 207.5,296.25 A9,9 0 0 1 203,301.45" fill="none" stroke="#333" stroke-width="0.75" />
<path d="M198,316.75 A13,13 0 0 0 207.5,308.25 A9,9 0 0 0 203,303.05" fill="none" stroke="#333" stroke-width="0.75" />
<rect x="197.80" y="275.25" width="1.80" height="6.00" fill="#444" stroke="#222" stroke-width="0.75" />
<rect x="197.80" y="323.25" width="1.80" height="6.00" fill="#444" stroke="#222" stroke-width="0.75" />
<path d="M197.5,282.75 H204.75 M197.5,321.75 H204.75 M204.75,279.25 V282.75 M204.75,325.25 V321.75" fill="none" stroke="#222" stroke-width="0.90" />
<path d="M198,282.75 l5,-4 M198,321.75 l5,4" fill="none" stroke="#222" stroke-width="0.75" />
<rect x="248.8" y="273.0" width="10.4" height="5.6" rx="2" fill="#e3e7e6" stroke="#1a1a1a" stroke-width="0.9"/>
<line x1="252" y1="273.0" x2="252" y2="278.6" stroke="#1a1a1a" stroke-width="0.90" />
<line x1="256" y1="273.0" x2="256" y2="278.6" stroke="#1a1a1a" stroke-width="0.90" />
<rect x="248.8" y="326.2" width="10.4" height="5.6" rx="2" fill="#e3e7e6" stroke="#1a1a1a" stroke-width="0.9"/>
<line x1="252" y1="326.2" x2="252" y2="331.8" stroke="#1a1a1a" stroke-width="0.90" />
<line x1="256" y1="326.2" x2="256" y2="331.8" stroke="#1a1a1a" stroke-width="0.90" />
<text x="247" y="277.5" font-size="4.6" fill="#555" text-anchor="middle" font-weight="normal" >TYPE C</text>
<text x="247" y="283.5" font-size="4.6" fill="#555" text-anchor="middle" font-weight="normal" >3 BDR</text>
<circle cx="248" cy="292" r="6.8" fill="none" stroke="#444" stroke-width="1.05"/>
<text x="248" y="294.3" font-size="6.4" fill="#444" stroke="#444" stroke-width="0.15" text-anchor="middle" font-weight="normal" textLength="10.5" lengthAdjust="spacingAndGlyphs">N20</text>
<rect x="245.50" y="307.50" width="3.50" height="9.50" fill="none" stroke="#1a1a1a" stroke-width="1.65" />
<line x1="245.5" y1="312" x2="249" y2="312" stroke="#1a1a1a" stroke-width="1.20" />
<rect x="251.50" y="310.00" width="5.50" height="5.00" fill="#9aa" stroke="#1a1a1a" stroke-width="1.20" />
<rect x="250.50" y="319.00" width="7.50" height="2.00" fill="#222" stroke="#111" stroke-width="0.75" />
<line x1="243.5" y1="303" x2="243.5" y2="322" stroke="#1a1a1a" stroke-width="1.95" />
<path d="M246,305 q8,0 9,6" fill="none" stroke="#222" stroke-width="0.75" />
<text x="246.5" y="325" font-size="4.2" fill="#666" text-anchor="middle" font-weight="normal" >TYPE C</text>
<text x="246.5" y="331" font-size="4.2" fill="#666" text-anchor="middle" font-weight="normal" >3 BDR</text>
<circle cx="251" cy="329" r="0.1" fill="none" stroke="#222" stroke-width="0.15"/>
<rect x="204.75" y="368.15" width="71.00" height="69.95" fill="#fff" stroke="#222" stroke-width="1.05" />
<rect x="212.90" y="368.75" width="49.35" height="68.75" fill="#e3e7e6"/>
<rect x="212.90" y="368.75" width="49.35" height="68.75" fill="none" stroke="#222" stroke-width="1.50" />
<line x1="197.25" y1="403.1" x2="278.5" y2="403.1" stroke="#1a1a1a" stroke-width="2.40" />
<line x1="262.9" y1="368.75" x2="262.9" y2="437.5" stroke="#222" stroke-width="1.50" />
<rect x="263.75" y="368.75" width="4.15" height="19.00" fill="none" stroke="#222" stroke-width="0.90" />
<rect x="263.75" y="418.50" width="4.15" height="19.00" fill="none" stroke="#222" stroke-width="0.90" />
<line x1="208.5" y1="368.75" x2="208.5" y2="388.1" stroke="#222" stroke-width="0.90" />
<line x1="208.5" y1="418.1" x2="208.5" y2="437.5" stroke="#222" stroke-width="0.90" />
<rect x="212.90" y="388.10" width="23.10" height="14.20" fill="#e3e7e6" stroke="#1a1a1a" stroke-width="1.95" />
<rect x="213.90" y="389.10" width="21.10" height="12.20" fill="none" stroke="#444" stroke-width="0.75" stroke-dasharray="1.6 1"/>
<rect x="212.90" y="403.90" width="23.10" height="14.20" fill="#e3e7e6" stroke="#1a1a1a" stroke-width="1.95" />
<rect x="213.90" y="404.90" width="21.10" height="12.20" fill="none" stroke="#444" stroke-width="0.75" stroke-dasharray="1.6 1"/>
<polyline points="213.9,389.1 234.5,395.1 213.9,401.1" fill="none" stroke="#555" stroke-width="0.5"/>
<polyline points="213.9,417.1 234.5,411.1 213.9,405.1" fill="none" stroke="#555" stroke-width="0.5"/>
<text x="224" y="392.90000000000003" font-size="2.4" fill="#333" text-anchor="middle" font-weight="normal" >CARPORT</text>
<text x="224" y="415.70000000000005" font-size="2.4" fill="#333" text-anchor="middle" font-weight="normal" >CARPORT</text>
<path d="M216.4,372.25 H229.9 V380.75 H229.9 M216.4,372.25 V388.1" fill="none" stroke="#1a1a1a" stroke-width="1.80" />
<path d="M216.4,434.0 H229.9 V425.5 H229.9 M216.4,434.0 V418.1" fill="none" stroke="#1a1a1a" stroke-width="1.80" />
<rect x="221.40" y="367.95" width="2.50" height="1.60" fill="#222" stroke="#222" stroke-width="0.30" />
<rect x="221.40" y="436.70" width="2.50" height="1.60" fill="#222" stroke="#222" stroke-width="0.30" />
<path d="M209.8,382.70000000000005 l2.2,1.4 l-2.2,1.4 z" fill="#333" stroke="#333" stroke-width="0.30" />
<path d="M209.8,420.70000000000005 l2.2,1.4 l-2.2,1.4 z" fill="#333" stroke="#333" stroke-width="0.30" />
<line x1="197.5" y1="388.6" x2="212.9" y2="388.6" stroke="#222" stroke-width="1.05" />
<line x1="197.5" y1="417.6" x2="212.9" y2="417.6" stroke="#222" stroke-width="1.05" />
<path d="M198,388.6 A13,13 0 0 1 207.5,397.1 A9,9 0 0 1 203,402.3" fill="none" stroke="#333" stroke-width="0.75" />
<path d="M198,417.6 A13,13 0 0 0 207.5,409.1 A9,9 0 0 0 203,403.90000000000003" fill="none" stroke="#333" stroke-width="0.75" />
<rect x="197.80" y="376.10" width="1.80" height="6.00" fill="#444" stroke="#222" stroke-width="0.75" />
<rect x="197.80" y="424.10" width="1.80" height="6.00" fill="#444" stroke="#222" stroke-width="0.75" />
<path d="M197.5,383.6 H204.75 M197.5,422.6 H204.75 M204.75,380.1 V383.6 M204.75,426.1 V422.6" fill="none" stroke="#222" stroke-width="0.90" />
<path d="M198,383.6 l5,-4 M198,422.6 l5,4" fill="none" stroke="#222" stroke-width="0.75" />
<text x="246" y="377.3" font-size="6.4" fill="#444" stroke="#444" stroke-width="0.15" text-anchor="middle" font-weight="normal" textLength="17.5" lengthAdjust="spacingAndGlyphs">TYPE C</text>
<text x="246" y="384.5" font-size="6.4" fill="#444" stroke="#444" stroke-width="0.15" text-anchor="middle" font-weight="normal" textLength="15" lengthAdjust="spacingAndGlyphs">3 BDR</text>
<circle cx="251" cy="393.75" r="6.6" fill="none" stroke="#333" stroke-width="1.05"/>
<text x="251.5" y="396" font-size="6.4" fill="#333" stroke="#333" stroke-width="0.15" text-anchor="middle" font-weight="normal" textLength="10.5" lengthAdjust="spacingAndGlyphs">N18</text>
<rect x="244.50" y="390.50" width="3.50" height="8.00" fill="none" stroke="#1a1a1a" stroke-width="1.65" />
<line x1="243" y1="388.5" x2="243" y2="402.5" stroke="#1a1a1a" stroke-width="1.95" />
<rect x="238.50" y="394.50" width="2.00" height="3.50" fill="#222" stroke="#222" stroke-width="0.60" />
<circle cx="249" cy="411.9" r="6.8" fill="none" stroke="#333" stroke-width="1.05"/>
<text x="249" y="414.2" font-size="6.6" fill="#333" stroke="#333" stroke-width="0.15" text-anchor="middle" font-weight="normal" textLength="11" lengthAdjust="spacingAndGlyphs">N17</text>
<text x="246" y="424.8" font-size="6.4" fill="#444" stroke="#444" stroke-width="0.15" text-anchor="middle" font-weight="normal" textLength="17.5" lengthAdjust="spacingAndGlyphs">TYPE C</text>
<text x="246" y="431.5" font-size="6.4" fill="#444" stroke="#444" stroke-width="0.15" text-anchor="middle" font-weight="normal" textLength="15" lengthAdjust="spacingAndGlyphs">3 BDR</text>
<rect x="228.50" y="425.00" width="4.00" height="9.00" fill="#fff" stroke="#1a1a1a" stroke-width="1.35" />
<line x1="163.4" y1="197.5" x2="163.4" y2="219" stroke="#333" stroke-width="1.35" />
<line x1="45.6" y1="219.3" x2="163.5" y2="219.3" stroke="#555" stroke-width="2.25" />
<line x1="45.6" y1="228.75" x2="158.1" y2="228.75" stroke="#333" stroke-width="1.50" />
<line x1="45.7" y1="219" x2="45.7" y2="637.5" stroke="#444" stroke-width="1.20" />
<line x1="47.3" y1="228.75" x2="47.3" y2="598.25" stroke="#333" stroke-width="1.20" />
<path d="M47,283.25 H27.5 V566.5 H45.7 M27.5,477.75 H45.7" fill="none" stroke="#444" stroke-width="1.20" />
<rect x="158.10" y="219.30" width="3.90" height="204.70" fill="#777"/>
<line x1="158.1" y1="228.75" x2="158.1" y2="424" stroke="#333" stroke-width="1.20" />
<line x1="163.3" y1="219" x2="163.3" y2="424" stroke="#333" stroke-width="1.35" />
<line x1="160" y1="219.3" x2="160" y2="424" stroke="#333" stroke-width="0.75" />
<line x1="156.3" y1="422.25" x2="156.3" y2="598" stroke="#555" stroke-width="1.05" />
<line x1="163.5" y1="424" x2="163.5" y2="605" stroke="#444" stroke-width="1.20" />
<rect x="158.50" y="495.25" width="3.80" height="32.50" fill="#555"/>
<line x1="158.4" y1="495.25" x2="158.4" y2="527.75" stroke="#222" stroke-width="1.05" />
<line x1="162.6" y1="495.25" x2="162.6" y2="527.75" stroke="#222" stroke-width="1.05" />
<path d="M158,497 a8,8 0 0 0 -8,8 M158,513 a8,8 0 0 1 -8,-8 M158,513 a7,7 0 0 0 -7,7 M158,527 a7,7 0 0 1 -7,-7" fill="none" stroke="#444" stroke-width="0.75" />
<rect x="62.25" y="243.40" width="56.50" height="81.20" fill="#9a9e9d"/>
<rect x="62.25" y="243.40" width="56.50" height="81.20" fill="none" stroke="#555" stroke-width="0.90" />
<rect x="62.25" y="326.90" width="56.50" height="81.40" fill="#c9cbca"/>
<rect x="62.25" y="326.90" width="56.50" height="81.40" fill="none" stroke="#666" stroke-width="0.90" />
<line x1="47" y1="325.9" x2="133" y2="325.9" stroke="#333" stroke-width="1.65" />
<line x1="62.25" y1="277.3" x2="127.5" y2="277.3" stroke="#333" stroke-width="1.20" />
<line x1="62.25" y1="290.25" x2="127.5" y2="290.25" stroke="#333" stroke-width="1.20" />
<line x1="97.75" y1="277.3" x2="97.75" y2="290.25" stroke="#444" stroke-width="1.20" />
<rect x="56.25" y="260.50" width="6.00" height="16.80" fill="#fff" stroke="#222" stroke-width="1.05" />
<rect x="56.25" y="290.25" width="6.00" height="16.75" fill="#fff" stroke="#222" stroke-width="1.05" />
<rect x="118.75" y="260.50" width="8.75" height="16.80" fill="#fff" stroke="#222" stroke-width="1.05" />
<rect x="118.75" y="290.25" width="8.75" height="16.75" fill="#fff" stroke="#222" stroke-width="1.05" />
<rect x="63.50" y="278.30" width="16.50" height="10.95" fill="none" stroke="#222" stroke-width="0.90" />
<line x1="68.5" y1="278.3" x2="68.5" y2="282.8" stroke="#222" stroke-width="1.05" />
<line x1="68.5" y1="284.75" x2="68.5" y2="289.25" stroke="#222" stroke-width="1.05" />
<line x1="70.7" y1="278.3" x2="70.7" y2="282.8" stroke="#222" stroke-width="1.05" />
<line x1="70.7" y1="284.75" x2="70.7" y2="289.25" stroke="#222" stroke-width="1.05" />
<line x1="72.9" y1="278.3" x2="72.9" y2="282.8" stroke="#222" stroke-width="1.05" />
<line x1="72.9" y1="284.75" x2="72.9" y2="289.25" stroke="#222" stroke-width="1.05" />
<line x1="75.1" y1="278.3" x2="75.1" y2="282.8" stroke="#222" stroke-width="1.05" />
<line x1="75.1" y1="284.75" x2="75.1" y2="289.25" stroke="#222" stroke-width="1.05" />
<line x1="77.3" y1="278.3" x2="77.3" y2="282.8" stroke="#222" stroke-width="1.05" />
<line x1="77.3" y1="284.75" x2="77.3" y2="289.25" stroke="#222" stroke-width="1.05" />
<line x1="68" y1="280.5" x2="80" y2="280.5" stroke="#222" stroke-width="0.90" />
<line x1="68" y1="287.05" x2="80" y2="287.05" stroke="#222" stroke-width="0.90" />
<path d="M69,282.8 H65.5 V287.25 H69" fill="none" stroke="#222" stroke-width="1.35" />
<line x1="47.3" y1="284.3" x2="62.25" y2="284.3" stroke="#444" stroke-width="1.35" />
<line x1="62.25" y1="361.25" x2="127.5" y2="361.25" stroke="#333" stroke-width="1.20" />
<line x1="62.25" y1="374.4" x2="127.5" y2="374.4" stroke="#333" stroke-width="1.20" />
<line x1="97.75" y1="361.25" x2="97.75" y2="374.4" stroke="#444" stroke-width="1.20" />
<rect x="56.25" y="344.40" width="6.00" height="16.85" fill="#fff" stroke="#222" stroke-width="1.05" />
<rect x="56.25" y="374.40" width="6.00" height="16.60" fill="#fff" stroke="#222" stroke-width="1.05" />
<rect x="118.75" y="344.40" width="8.75" height="16.85" fill="#fff" stroke="#222" stroke-width="1.05" />
<rect x="118.75" y="374.40" width="8.75" height="16.60" fill="#fff" stroke="#222" stroke-width="1.05" />
<rect x="63.50" y="362.25" width="16.50" height="11.15" fill="none" stroke="#222" stroke-width="0.90" />
<line x1="68.5" y1="362.25" x2="68.5" y2="366.75" stroke="#222" stroke-width="1.05" />
<line x1="68.5" y1="368.9" x2="68.5" y2="373.4" stroke="#222" stroke-width="1.05" />
<line x1="70.7" y1="362.25" x2="70.7" y2="366.75" stroke="#222" stroke-width="1.05" />
<line x1="70.7" y1="368.9" x2="70.7" y2="373.4" stroke="#222" stroke-width="1.05" />
<line x1="72.9" y1="362.25" x2="72.9" y2="366.75" stroke="#222" stroke-width="1.05" />
<line x1="72.9" y1="368.9" x2="72.9" y2="373.4" stroke="#222" stroke-width="1.05" />
<line x1="75.1" y1="362.25" x2="75.1" y2="366.75" stroke="#222" stroke-width="1.05" />
<line x1="75.1" y1="368.9" x2="75.1" y2="373.4" stroke="#222" stroke-width="1.05" />
<line x1="77.3" y1="362.25" x2="77.3" y2="366.75" stroke="#222" stroke-width="1.05" />
<line x1="77.3" y1="368.9" x2="77.3" y2="373.4" stroke="#222" stroke-width="1.05" />
<line x1="68" y1="364.45" x2="80" y2="364.45" stroke="#222" stroke-width="0.90" />
<line x1="68" y1="371.2" x2="80" y2="371.2" stroke="#222" stroke-width="0.90" />
<path d="M69,366.75 H65.5 V371.4 H69" fill="none" stroke="#222" stroke-width="1.35" />
<line x1="47.3" y1="368.25" x2="62.25" y2="368.25" stroke="#444" stroke-width="1.35" />
<text x="87.5" y="262.8" font-size="7.8" fill="#222" stroke="#222" stroke-width="0.15" text-anchor="middle" font-weight="normal" transform="rotate(-90 87.5 262.8)" dominant-baseline="central">BLOCK  11</text>
<text x="87.5" y="345.5" font-size="7.8" fill="#333" stroke="#333" stroke-width="0.15" text-anchor="middle" font-weight="normal" transform="rotate(-90 87.5 345.5)" dominant-baseline="central">BLOCK  12</text>
<line x1="134.3" y1="228.75" x2="134.3" y2="412.5" stroke="#333" stroke-width="1.20" />
<path d="M127.5,277.3 V234 H133.2 V276" fill="none" stroke="#222" stroke-width="1.05" />
<path d="M128,277 a6,6 0 0 1 5,-5" fill="none" stroke="#222" stroke-width="0.75" />
<path d="M127.5,360.5 H133 M127.5,361.25 a6,6 0 0 1 5,-5 M127.5,374.4 a6,6 0 0 0 5,5" fill="none" stroke="#222" stroke-width="0.75" />
<line x1="118.75" y1="277.3" x2="134.3" y2="277.3" stroke="#222" stroke-width="1.50" />
<line x1="118.75" y1="290.25" x2="128.5" y2="290.25" stroke="#222" stroke-width="1.80" />
<line x1="118.75" y1="361" x2="128" y2="361" stroke="#222" stroke-width="1.80" />
<line x1="118.75" y1="374.6" x2="128.5" y2="374.6" stroke="#222" stroke-width="1.80" />
<path d="M128,290.5 a6,6 0 0 0 5,5" fill="none" stroke="#222" stroke-width="0.75" />
<line x1="134.3" y1="229.2" x2="157.8" y2="229.2" stroke="#444" stroke-width="0.75" stroke-dasharray="2 1"/>
<polyline points="157.5,230.00 136,235.25 157.5,240.50" fill="none" stroke="#444" stroke-width="0.55"/>
<text x="149.8" y="235.25" font-size="3.3" fill="#222" text-anchor="middle" font-weight="normal" transform="rotate(-90 149.8 235.25)" dominant-baseline="central">P-1</text>
<text x="154.2" y="235.25" font-size="3.3" fill="#222" text-anchor="middle" font-weight="normal" transform="rotate(-90 154.2 235.25)" dominant-baseline="central">N11</text>
<line x1="134.3" y1="241.29999999999998" x2="157.8" y2="241.29999999999998" stroke="#444" stroke-width="0.75" stroke-dasharray="2 1"/>
<polyline points="157.5,242.10 136,247.35 157.5,252.60" fill="none" stroke="#444" stroke-width="0.55"/>
<text x="149.8" y="247.35" font-size="3.3" fill="#222" text-anchor="middle" font-weight="normal" transform="rotate(-90 149.8 247.35)" dominant-baseline="central">P-2</text>
<text x="154.2" y="247.35" font-size="3.3" fill="#222" text-anchor="middle" font-weight="normal" transform="rotate(-90 154.2 247.35)" dominant-baseline="central">N12</text>
<line x1="134.3" y1="253.39999999999998" x2="157.8" y2="253.39999999999998" stroke="#444" stroke-width="0.75" stroke-dasharray="2 1"/>
<polyline points="157.5,254.20 136,259.45 157.5,264.70" fill="none" stroke="#444" stroke-width="0.55"/>
<text x="149.8" y="259.45" font-size="3.3" fill="#222" text-anchor="middle" font-weight="normal" transform="rotate(-90 149.8 259.45)" dominant-baseline="central">P-3</text>
<text x="154.2" y="259.45" font-size="3.3" fill="#222" text-anchor="middle" font-weight="normal" transform="rotate(-90 154.2 259.45)" dominant-baseline="central">N13</text>
<line x1="134.3" y1="265.5" x2="157.8" y2="265.5" stroke="#444" stroke-width="0.75" stroke-dasharray="2 1"/>
<polyline points="157.5,266.30 136,271.55 157.5,276.80" fill="none" stroke="#444" stroke-width="0.55"/>
<text x="149.8" y="271.55" font-size="3.3" fill="#222" text-anchor="middle" font-weight="normal" transform="rotate(-90 149.8 271.55)" dominant-baseline="central">P-4</text>
<text x="154.2" y="271.55" font-size="3.3" fill="#222" text-anchor="middle" font-weight="normal" transform="rotate(-90 154.2 271.55)" dominant-baseline="central">N14</text>
<line x1="134.3" y1="277.59999999999997" x2="157.8" y2="277.59999999999997" stroke="#444" stroke-width="0.75" stroke-dasharray="2 1"/>
<line x1="134.3" y1="288.4" x2="157.8" y2="288.4" stroke="#444" stroke-width="0.75" stroke-dasharray="2 1"/>
<polyline points="157.5,289.20 136,294.42 157.5,299.65" fill="none" stroke="#444" stroke-width="0.55"/>
<text x="149.8" y="294.42499999999995" font-size="3.3" fill="#222" text-anchor="middle" font-weight="normal" transform="rotate(-90 149.8 294.42499999999995)" dominant-baseline="central">P-1</text>
<text x="154.2" y="294.42499999999995" font-size="3.3" fill="#222" text-anchor="middle" font-weight="normal" transform="rotate(-90 154.2 294.42499999999995)" dominant-baseline="central">N11</text>
<line x1="134.3" y1="300.45" x2="157.8" y2="300.45" stroke="#444" stroke-width="0.75" stroke-dasharray="2 1"/>
<polyline points="157.5,301.25 136,306.47 157.5,311.70" fill="none" stroke="#444" stroke-width="0.55"/>
<text x="149.8" y="306.47499999999997" font-size="3.3" fill="#222" text-anchor="middle" font-weight="normal" transform="rotate(-90 149.8 306.47499999999997)" dominant-baseline="central">P-2</text>
<text x="154.2" y="306.47499999999997" font-size="3.3" fill="#222" text-anchor="middle" font-weight="normal" transform="rotate(-90 154.2 306.47499999999997)" dominant-baseline="central">N12</text>
<line x1="134.3" y1="312.5" x2="157.8" y2="312.5" stroke="#444" stroke-width="0.75" stroke-dasharray="2 1"/>
<polyline points="157.5,313.30 136,318.52 157.5,323.75" fill="none" stroke="#444" stroke-width="0.55"/>
<text x="149.8" y="318.525" font-size="3.3" fill="#222" text-anchor="middle" font-weight="normal" transform="rotate(-90 149.8 318.525)" dominant-baseline="central">P-3</text>
<text x="154.2" y="318.525" font-size="3.3" fill="#222" text-anchor="middle" font-weight="normal" transform="rotate(-90 154.2 318.525)" dominant-baseline="central">N13</text>
<line x1="134.3" y1="324.54999999999995" x2="157.8" y2="324.54999999999995" stroke="#444" stroke-width="0.75" stroke-dasharray="2 1"/>
<polyline points="157.5,325.35 136,330.57 157.5,335.80" fill="none" stroke="#444" stroke-width="0.55"/>
<text x="149.8" y="330.57499999999993" font-size="3.3" fill="#222" text-anchor="middle" font-weight="normal" transform="rotate(-90 149.8 330.57499999999993)" dominant-baseline="central">P-4</text>
<text x="154.2" y="330.57499999999993" font-size="3.3" fill="#222" text-anchor="middle" font-weight="normal" transform="rotate(-90 154.2 330.57499999999993)" dominant-baseline="central">N14</text>
<line x1="134.3" y1="336.59999999999997" x2="157.8" y2="336.59999999999997" stroke="#444" stroke-width="0.75" stroke-dasharray="2 1"/>
<polyline points="157.5,337.40 136,342.62 157.5,347.85" fill="none" stroke="#444" stroke-width="0.55"/>
<text x="149.8" y="342.62499999999994" font-size="3.3" fill="#222" text-anchor="middle" font-weight="normal" transform="rotate(-90 149.8 342.62499999999994)" dominant-baseline="central">P-5</text>
<text x="154.2" y="342.62499999999994" font-size="3.3" fill="#222" text-anchor="middle" font-weight="normal" transform="rotate(-90 154.2 342.62499999999994)" dominant-baseline="central">N15</text>
<line x1="134.3" y1="348.65" x2="157.8" y2="348.65" stroke="#444" stroke-width="0.75" stroke-dasharray="2 1"/>
<polyline points="157.5,349.45 136,354.67 157.5,359.90" fill="none" stroke="#444" stroke-width="0.55"/>
<text x="149.8" y="354.67499999999995" font-size="3.3" fill="#222" text-anchor="middle" font-weight="normal" transform="rotate(-90 149.8 354.67499999999995)" dominant-baseline="central">P-6</text>
<text x="154.2" y="354.67499999999995" font-size="3.3" fill="#222" text-anchor="middle" font-weight="normal" transform="rotate(-90 154.2 354.67499999999995)" dominant-baseline="central">N16</text>
<line x1="134.3" y1="360.7" x2="157.8" y2="360.7" stroke="#444" stroke-width="0.75" stroke-dasharray="2 1"/>
<line x1="134.3" y1="367.5" x2="157.8" y2="367.5" stroke="#444" stroke-width="0.75" stroke-dasharray="2 1"/>
<polyline points="157.5,368.30 136,373.55 157.5,378.80" fill="none" stroke="#444" stroke-width="0.55"/>
<text x="149.8" y="373.55" font-size="3.3" fill="#222" text-anchor="middle" font-weight="normal" transform="rotate(-90 149.8 373.55)" dominant-baseline="central">P-1</text>
<text x="154.2" y="373.55" font-size="3.3" fill="#222" text-anchor="middle" font-weight="normal" transform="rotate(-90 154.2 373.55)" dominant-baseline="central">N11</text>
<line x1="134.3" y1="379.6" x2="157.8" y2="379.6" stroke="#444" stroke-width="0.75" stroke-dasharray="2 1"/>
<polyline points="157.5,380.40 136,385.65 157.5,390.90" fill="none" stroke="#444" stroke-width="0.55"/>
<text x="149.8" y="385.65000000000003" font-size="3.3" fill="#222" text-anchor="middle" font-weight="normal" transform="rotate(-90 149.8 385.65000000000003)" dominant-baseline="central">P-2</text>
<text x="154.2" y="385.65000000000003" font-size="3.3" fill="#222" text-anchor="middle" font-weight="normal" transform="rotate(-90 154.2 385.65000000000003)" dominant-baseline="central">N12</text>
<line x1="134.3" y1="391.7" x2="157.8" y2="391.7" stroke="#444" stroke-width="0.75" stroke-dasharray="2 1"/>
<polyline points="157.5,392.50 136,397.75 157.5,403.00" fill="none" stroke="#444" stroke-width="0.55"/>
<text x="149.8" y="397.75" font-size="3.3" fill="#222" text-anchor="middle" font-weight="normal" transform="rotate(-90 149.8 397.75)" dominant-baseline="central">P-3</text>
<text x="154.2" y="397.75" font-size="3.3" fill="#222" text-anchor="middle" font-weight="normal" transform="rotate(-90 154.2 397.75)" dominant-baseline="central">N13</text>
<line x1="134.3" y1="403.8" x2="157.8" y2="403.8" stroke="#444" stroke-width="0.75" stroke-dasharray="2 1"/>
<line x1="145.5" y1="229" x2="145.5" y2="277.6" stroke="#666" stroke-width="0.60" stroke-dasharray="1.5 1"/>
<line x1="145.5" y1="288.4" x2="145.5" y2="360.6" stroke="#666" stroke-width="0.60" stroke-dasharray="1.5 1"/>
<line x1="145.5" y1="367.5" x2="145.5" y2="404" stroke="#666" stroke-width="0.60" stroke-dasharray="1.5 1"/>
<path d="M134.3,412.5 V422.25 M139,422.25 V413.5 H158 M126,404 V422 M129.5,404 V422" fill="none" stroke="#222" stroke-width="1.05" />
<text x="124.2" y="413" font-size="2.2" fill="#333" text-anchor="middle" font-weight="normal" transform="rotate(-90 124.2 413)" >P=89 P-47</text>
<line x1="47.3" y1="422.25" x2="158" y2="422.25" stroke="#444" stroke-width="1.20" />
<line x1="47.3" y1="511" x2="156.3" y2="511" stroke="#444" stroke-width="1.20" />
<path d="M146.9,438.75 H91.5 V496 H148.1 V477.5 M137.5,458.1 H154 V496 M137.5,464.75 H154" fill="none" stroke="#444" stroke-width="0.90" />
<polygon points="111.25,439.00 146.75,439.00 146.75,459.00 137.50,459.00 137.50,465.25 147.50,465.25 147.50,477.75 144.50,477.75 144.50,484.00 134.25,484.00 134.25,495.25 108.75,495.25 108.75,476.50 100.75,476.50 100.75,457.25 111.25,457.25" fill="#d6e6d2" stroke="#3a463a" stroke-width="0.95"/>
<circle cx="123.75" cy="449.75" r="7.4" fill="none" stroke="#335" stroke-width="0.90"/>
<text x="123.75" y="449.75" font-size="6.8" fill="#335" stroke="#335" stroke-width="0.15" text-anchor="middle" font-weight="normal" transform="rotate(90 123.75 449.75)" dominant-baseline="central" textLength="11.5" lengthAdjust="spacingAndGlyphs">V25</text>
<path d="M108.75,495.25 V526.5 M134.25,495.25 V526.5" fill="none" stroke="#666" stroke-width="0.75" />
<text x="122.6" y="503.5" font-size="3.4" fill="#222" text-anchor="middle" font-weight="normal" transform="rotate(-90 122.6 503.5)" dominant-baseline="central">P-47</text>
<text x="122.6" y="519.5" font-size="3.4" fill="#222" text-anchor="middle" font-weight="normal" transform="rotate(-90 122.6 519.5)" dominant-baseline="central">P-98</text>
<path d="M92,511.5 H108 V517 M104,520 a4,4 0 0 1 4,-4 V520 Z" fill="none" stroke="#333" stroke-width="1.05" />
<path d="M91.75,511 V583.75 H111 M134.25,526.5 H148.5 V563.5 M153.75,511 V563" fill="none" stroke="#555" stroke-width="0.90" />
<polygon points="108.75,526.50 134.25,526.50 134.25,537.00 144.50,537.00 144.50,544.00 147.50,544.00 147.50,556.50 137.50,556.50 137.50,563.00 146.75,563.00 146.75,583.75 111.25,583.75 111.25,565.50 100.75,565.50 100.75,545.50 108.75,545.50" fill="#a9d9f5" stroke="#2a3a4a" stroke-width="0.95"/>
<circle cx="123" cy="574.25" r="7.4" fill="none" stroke="#235" stroke-width="0.90"/>
<text x="123" y="574.25" font-size="6.8" fill="#235" stroke="#235" stroke-width="0.15" text-anchor="middle" font-weight="normal" transform="rotate(90 123 574.25)" dominant-baseline="central" textLength="11.5" lengthAdjust="spacingAndGlyphs">V26</text>
<path d="M137.5,556.5 H153.75 V563 H147" fill="none" stroke="#444" stroke-width="0.90" />
<rect x="59.50" y="446.50" width="31.75" height="42.00" fill="none" stroke="#555" stroke-width="0.75" />
<path d="M65.6,457.5 L69.4,452.8 H80.6 L85.6,457.5 V477.0 L81.2,482.2 H70 L65.6,477.0 Z" fill="none" stroke="#222" stroke-width="1.20" />
<polyline points="80.60,452.80 78.75,461.30 71.90,475.00 71.25,482.10" fill="none" stroke="#333" stroke-width="0.6"/>
<polyline points="79.35,452.80 77.50,461.30 70.65,475.00 70.00,482.10" fill="none" stroke="#333" stroke-width="0.6"/>
<polyline points="78.10,452.80 76.25,461.30 69.40,475.00 68.75,482.10" fill="none" stroke="#333" stroke-width="0.6"/>
<polyline points="76.85,452.80 75.00,461.30 69.15,475.00 69.00,482.10" fill="none" stroke="#333" stroke-width="0.6"/>
<text x="67.6" y="467.5" font-size="2.0" fill="#222" text-anchor="middle" font-weight="normal" transform="rotate(-90 67.6 467.5)" >SWIMMING POOL</text>
<text x="70.2" y="467.5" font-size="2.0" fill="#222" text-anchor="middle" font-weight="normal" transform="rotate(-90 70.2 467.5)" >4.00x8.00</text>
<line x1="69" y1="464.0" x2="69" y2="468.5" stroke="#111" stroke-width="1.35" />
<line x1="67.8" y1="464.5" x2="70.2" y2="464.5" stroke="#111" stroke-width="1.05" />
<rect x="59.50" y="540.00" width="31.75" height="42.00" fill="none" stroke="#555" stroke-width="0.75" />
<path d="M65.6,551 L69.4,546.3 H80.6 L85.6,551 V570.5 L81.2,575.7 H70 L65.6,570.5 Z" fill="none" stroke="#222" stroke-width="1.20" />
<polyline points="80.60,575.70 78.75,567.20 71.90,553.50 71.25,546.40" fill="none" stroke="#333" stroke-width="0.6"/>
<polyline points="79.35,575.70 77.50,567.20 70.65,553.50 70.00,546.40" fill="none" stroke="#333" stroke-width="0.6"/>
<polyline points="78.10,575.70 76.25,567.20 69.40,553.50 68.75,546.40" fill="none" stroke="#333" stroke-width="0.6"/>
<polyline points="76.85,575.70 75.00,567.20 69.15,553.50 69.00,546.40" fill="none" stroke="#333" stroke-width="0.6"/>
<text x="67.6" y="561" font-size="2.0" fill="#222" text-anchor="middle" font-weight="normal" transform="rotate(-90 67.6 561)" >SWIMMING POOL</text>
<text x="70.2" y="561" font-size="2.0" fill="#222" text-anchor="middle" font-weight="normal" transform="rotate(-90 70.2 561)" >4.00x8.00</text>
<line x1="69" y1="557.5" x2="69" y2="562" stroke="#111" stroke-width="1.35" />
<line x1="67.8" y1="558" x2="70.2" y2="558" stroke="#111" stroke-width="1.05" />
<path d="M59.5,446.5 H66 V441 M66,446.5 V451.5 H73 M66,488.5 V483.5 H72" fill="none" stroke="#222" stroke-width="1.35" />
<path d="M59.5,515 H66.5 V579 M66.5,520 H59.5 M66,536 V540 H72 M66.5,579 H80" fill="none" stroke="#333" stroke-width="1.20" />
<rect x="69.75" y="440.60" width="11.50" height="4.80" fill="#fff" stroke="#1a1a1a" stroke-width="1.50" />
<line x1="75.6" y1="440.6" x2="75.6" y2="445.4" stroke="#1a1a1a" stroke-width="1.20" />
<rect x="77.00" y="441.80" width="3.00" height="2.40" fill="#fff" stroke="#222" stroke-width="0.90" />
<rect x="69.75" y="576.50" width="11.50" height="4.80" fill="#fff" stroke="#1a1a1a" stroke-width="1.50" />
<line x1="75.6" y1="576.5" x2="75.6" y2="581.3" stroke="#1a1a1a" stroke-width="1.20" />
<rect x="77.00" y="577.70" width="3.00" height="2.40" fill="#fff" stroke="#222" stroke-width="0.90" />
<text x="66" y="436.5" font-size="1.8" fill="#333" text-anchor="middle" font-weight="normal" transform="rotate(-90 66 436.5)" >EXTERNAL SHOWER</text>
<line x1="66" y1="430" x2="66" y2="445" stroke="#444" stroke-width="0.60" />
<line x1="66.3" y1="575" x2="66.3" y2="598" stroke="#222" stroke-width="1.65" />
<path d="M47.3,575 H59.5 V521" fill="none" stroke="#444" stroke-width="1.05" />
<path d="M45.7,598.25 H157.5 Q158,610 152,615 H50 Q46,610 45.9,598.25" fill="none" stroke="#333" stroke-width="1.20" />
<line x1="45.7" y1="625.25" x2="150" y2="625.25" stroke="#444" stroke-width="1.05" />
<path d="M163.5,600 C163.5,622 152,637.5 132.5,637.5 H45.7" fill="none" stroke="#333" stroke-width="1.35" />
<path d="M222,492.75 H773 C790,492.75 803,505 801.9,522 L789,605 C786,625 775,638 757,638 H221 C203,638 191.25,626 191.25,608 V522 C191.25,505 203,492.75 222,492.75 Z" fill="none" stroke="#333" stroke-width="1.20" />
<path d="M196.6,612 V520 C196.6,508 205,499.9 217,499.9 H775 C789,499.9 797,510 795.6,525.5 L782,612" fill="none" stroke="#222" stroke-width="1.80" />
<line x1="196.6" y1="612" x2="782" y2="612" stroke="#333" stroke-width="1.35" />
<line x1="198.5" y1="615.25" x2="781" y2="615.25" stroke="#444" stroke-width="0.90" />
<path d="M193,625.4 H684 M235.4,633.75 H684" fill="none" stroke="#444" stroke-width="0.90" />
<line x1="235.4" y1="612" x2="235.4" y2="633.75" stroke="#333" stroke-width="1.05" />
<line x1="309.75" y1="612" x2="309.75" y2="633.75" stroke="#333" stroke-width="1.05" />
<line x1="383" y1="612" x2="383" y2="633.75" stroke="#333" stroke-width="1.05" />
<line x1="456.75" y1="612" x2="456.75" y2="633.75" stroke="#333" stroke-width="1.05" />
<line x1="530.5" y1="612" x2="530.5" y2="633.75" stroke="#333" stroke-width="1.05" />
<line x1="604.5" y1="612" x2="604.5" y2="633.75" stroke="#333" stroke-width="1.05" />
<line x1="684" y1="612" x2="684" y2="633.75" stroke="#333" stroke-width="1.05" />
<line x1="272.25" y1="499.9" x2="272.25" y2="612" stroke="#1a1a1a" stroke-width="1.95" />
<line x1="346" y1="499.9" x2="346" y2="612" stroke="#1a1a1a" stroke-width="1.95" />
<line x1="420" y1="499.9" x2="420" y2="612" stroke="#1a1a1a" stroke-width="1.95" />
<line x1="493.75" y1="499.9" x2="493.75" y2="612" stroke="#1a1a1a" stroke-width="1.95" />
<line x1="567.5" y1="499.9" x2="567.5" y2="612" stroke="#1a1a1a" stroke-width="1.95" />
<line x1="641.25" y1="499.9" x2="641.25" y2="612" stroke="#1a1a1a" stroke-width="1.95" />
<line x1="715.5" y1="499.9" x2="715.5" y2="612" stroke="#1a1a1a" stroke-width="1.95" />
<line x1="256" y1="499.9" x2="256" y2="527.75" stroke="#1a1a1a" stroke-width="1.80" />
<polyline points="257.5,500.9 264.0,563.0 270.5,500.9" fill="none" stroke="#333" stroke-width="0.75"/>
<path d="M257.5,499.9 a5.5,5.5 0 0 0 5.5,5.5 M271,499.9 a8,8 0 0 1 -8,8 a8,8 0 0 1 -2.5,-3" fill="none" stroke="#333" stroke-width="0.75" />
<path d="M203.5,527.75 H255.4 V538.6 H217.25 V557.4 H203.5 Z" fill="#fff" stroke="#333" stroke-width="1.05" />
<path d="M214.45,557.4 V600.45 H239.25 V598.05 H255.4" fill="none" stroke="#333" stroke-width="0.90" />
<polygon points="234.50,538.60 255.40,538.60 255.40,594.75 236.25,594.75 236.25,597.25 217.25,597.25 217.25,557.40 234.50,557.40" fill="#8a9ba8" stroke="#445" stroke-width="0.6"/>
<rect x="217.25" y="538.60" width="17.25" height="18.80" fill="#fff" stroke="#222" stroke-width="1.05" />
<rect x="217.55" y="538.90" width="1.50" height="1.50" fill="#fff" stroke="#222" stroke-width="0.75" />
<rect x="248.40" y="563.50" width="7.00" height="33.45" fill="#fff" stroke="#222" stroke-width="0.90" />
<line x1="248.4" y1="574.0" x2="255.4" y2="574.0" stroke="#222" stroke-width="0.90" />
<line x1="248.4" y1="593.0" x2="255.4" y2="593.0" stroke="#222" stroke-width="0.90" />
<path d="M250.0,568.7 l2.8800000000000003,-1.8 v3.6 z" fill="#111" stroke="#111" stroke-width="0.30" />
<rect x="256.00" y="563.20" width="16.00" height="8.10" fill="#fff" stroke="#333" stroke-width="1.05" />
<rect x="256.00" y="571.30" width="16.00" height="25.65" fill="#fff" stroke="#222" stroke-width="1.20" />
<rect x="258.20" y="574.00" width="12.60" height="21.25" fill="none" stroke="#2a2a2a" stroke-width="0.98" stroke-dasharray="3 0.8"/>
<polyline points="258.20,575.00 264.50,594.25 270.80,575.00" fill="none" stroke="#2a2a2a" stroke-width="0.75"/>
<text x="264.2" y="588.0" font-size="2.4" fill="#333" text-anchor="middle" font-weight="normal" >CARPORT</text>
<rect x="250.50" y="498.60" width="5.00" height="2.30" fill="#ddd" stroke="#222" stroke-width="0.75" />
<text x="232.3" y="571.5" font-size="7.4" fill="#1e2a36" stroke="#1e2a36" stroke-width="0.15" text-anchor="middle" font-weight="normal" textLength="23" lengthAdjust="spacingAndGlyphs">NEREID</text>
<text x="232.8" y="578.1" font-size="6.8" fill="#1e2a36" stroke="#1e2a36" stroke-width="0.15" text-anchor="middle" font-weight="normal" textLength="14.6" lengthAdjust="spacingAndGlyphs">3 BDR</text>
<circle cx="233.9" cy="587.25" r="6.9" fill="none" stroke="#1e2a36" stroke-width="0.90"/>
<text x="233.9" y="589.55" font-size="6.6" fill="#1e2a36" stroke="#1e2a36" stroke-width="0.15" text-anchor="middle" font-weight="normal" textLength="10.5" lengthAdjust="spacingAndGlyphs">V32</text>
<text x="245.3" y="568.3" font-size="2.6" fill="#1e2a36" text-anchor="middle" font-weight="normal" >♦</text>
<line x1="329.6" y1="499.9" x2="329.6" y2="525" stroke="#1a1a1a" stroke-width="1.80" />
<polyline points="331.1,500.9 337.6,560.0 344.1,500.9" fill="none" stroke="#333" stroke-width="0.75"/>
<path d="M331.1,499.9 a5.5,5.5 0 0 0 5.5,5.5 M344.6,499.9 a8,8 0 0 1 -8,8 a8,8 0 0 1 -2.5,-3" fill="none" stroke="#333" stroke-width="0.75" />
<path d="M277,525 H329 V536.2 H291 V554.3 H277 Z" fill="#fff" stroke="#333" stroke-width="1.05" />
<path d="M288.2,554.3 V597.5 H313 V595.0999999999999 H329" fill="none" stroke="#333" stroke-width="0.90" />
<polygon points="307.50,536.20 329.00,536.20 329.00,591.80 310.00,591.80 310.00,594.30 291.00,594.30 291.00,554.30 307.50,554.30" fill="#8a9ba8" stroke="#445" stroke-width="0.6"/>
<rect x="291.00" y="536.20" width="16.50" height="18.10" fill="#fff" stroke="#222" stroke-width="1.05" />
<rect x="291.30" y="536.50" width="1.50" height="1.50" fill="#fff" stroke="#222" stroke-width="0.75" />
<rect x="322.00" y="560.50" width="7.00" height="33.50" fill="#fff" stroke="#222" stroke-width="0.90" />
<line x1="322" y1="571.0" x2="329" y2="571.0" stroke="#222" stroke-width="0.90" />
<line x1="322" y1="590.0" x2="329" y2="590.0" stroke="#222" stroke-width="0.90" />
<path d="M323.59999999999997,565.7 l2.8800000000000003,-1.8 v3.6 z" fill="#111" stroke="#111" stroke-width="0.30" />
<rect x="329.60" y="560.20" width="16.00" height="8.10" fill="#fff" stroke="#333" stroke-width="1.05" />
<rect x="329.60" y="568.30" width="16.00" height="25.70" fill="#fff" stroke="#222" stroke-width="1.20" />
<rect x="331.80" y="571.00" width="12.60" height="21.30" fill="none" stroke="#2a2a2a" stroke-width="0.98" stroke-dasharray="3 0.8"/>
<polyline points="331.80,572.00 338.10,591.30 344.40,572.00" fill="none" stroke="#2a2a2a" stroke-width="0.75"/>
<text x="337.8" y="585.0" font-size="2.4" fill="#333" text-anchor="middle" font-weight="normal" >CARPORT</text>
<rect x="324.10" y="498.60" width="5.00" height="2.30" fill="#ddd" stroke="#222" stroke-width="0.75" />
<text x="305.7" y="570" font-size="7.4" fill="#1e2a36" stroke="#1e2a36" stroke-width="0.15" text-anchor="middle" font-weight="normal" textLength="23" lengthAdjust="spacingAndGlyphs">NEREID</text>
<text x="306.2" y="576.6" font-size="6.8" fill="#1e2a36" stroke="#1e2a36" stroke-width="0.15" text-anchor="middle" font-weight="normal" textLength="14.6" lengthAdjust="spacingAndGlyphs">3 BDR</text>
<circle cx="307.5" cy="586" r="6.9" fill="none" stroke="#1e2a36" stroke-width="0.90"/>
<text x="307.5" y="588.3" font-size="6.6" fill="#1e2a36" stroke="#1e2a36" stroke-width="0.15" text-anchor="middle" font-weight="normal" textLength="10.5" lengthAdjust="spacingAndGlyphs">V31</text>
<text x="319.2" y="566.8" font-size="2.6" fill="#1e2a36" text-anchor="middle" font-weight="normal" >♦</text>
<line x1="625.4" y1="499.9" x2="625.4" y2="525" stroke="#1a1a1a" stroke-width="1.80" />
<polyline points="626.9,500.9 633.4,560.05 639.9,500.9" fill="none" stroke="#333" stroke-width="0.75"/>
<path d="M626.9,499.9 a5.5,5.5 0 0 0 5.5,5.5 M640.4,499.9 a8,8 0 0 1 -8,8 a8,8 0 0 1 -2.5,-3" fill="none" stroke="#333" stroke-width="0.75" />
<path d="M572,525 H625 V536.25 H586.75 V554.25 H572 Z" fill="#fff" stroke="#333" stroke-width="1.05" />
<path d="M583.95,554.25 V597.45 H608.75 V595.05 H625" fill="none" stroke="#333" stroke-width="0.90" />
<polygon points="603.00,536.25 625.00,536.25 625.00,591.75 605.75,591.75 605.75,594.25 586.75,594.25 586.75,554.25 603.00,554.25" fill="#8a9ba8" stroke="#445" stroke-width="0.6"/>
<rect x="586.75" y="536.25" width="16.25" height="18.00" fill="#fff" stroke="#222" stroke-width="1.05" />
<rect x="587.05" y="536.55" width="1.50" height="1.50" fill="#fff" stroke="#222" stroke-width="0.75" />
<rect x="618.00" y="560.55" width="7.00" height="33.40" fill="#fff" stroke="#222" stroke-width="0.90" />
<line x1="618" y1="571.05" x2="625" y2="571.05" stroke="#222" stroke-width="0.90" />
<line x1="618" y1="590.05" x2="625" y2="590.05" stroke="#222" stroke-width="0.90" />
<path d="M619.6,565.75 l2.8800000000000003,-1.8 v3.6 z" fill="#111" stroke="#111" stroke-width="0.30" />
<rect x="625.60" y="560.25" width="15.80" height="8.10" fill="#fff" stroke="#333" stroke-width="1.05" />
<rect x="625.60" y="568.35" width="15.80" height="25.60" fill="#fff" stroke="#222" stroke-width="1.20" />
<rect x="627.80" y="571.05" width="12.40" height="21.20" fill="none" stroke="#2a2a2a" stroke-width="0.98" stroke-dasharray="3 0.8"/>
<polyline points="627.80,572.05 634.00,591.25 640.20,572.05" fill="none" stroke="#2a2a2a" stroke-width="0.75"/>
<text x="633.7" y="585.05" font-size="2.4" fill="#333" text-anchor="middle" font-weight="normal" >CARPORT</text>
<rect x="619.90" y="498.60" width="5.00" height="2.30" fill="#ddd" stroke="#222" stroke-width="0.75" />
<text x="601.8" y="570" font-size="7.4" fill="#1e2a36" stroke="#1e2a36" stroke-width="0.15" text-anchor="middle" font-weight="normal" textLength="23" lengthAdjust="spacingAndGlyphs">NEREID</text>
<text x="602.3" y="576.6" font-size="6.8" fill="#1e2a36" stroke="#1e2a36" stroke-width="0.15" text-anchor="middle" font-weight="normal" textLength="14.6" lengthAdjust="spacingAndGlyphs">3 BDR</text>
<circle cx="603.5" cy="586.3" r="6.9" fill="none" stroke="#1e2a36" stroke-width="0.90"/>
<text x="603.5" y="588.5999999999999" font-size="6.6" fill="#1e2a36" stroke="#1e2a36" stroke-width="0.15" text-anchor="middle" font-weight="normal" textLength="10.5" lengthAdjust="spacingAndGlyphs">V27</text>
<text x="615.2" y="566.8" font-size="2.6" fill="#1e2a36" text-anchor="middle" font-weight="normal" >♦</text>
<line x1="399.4" y1="499.9" x2="399.4" y2="547" stroke="#222" stroke-width="1.50" />
<polyline points="400.9,500.9 409.4,550 417.9,500.9" fill="none" stroke="#333" stroke-width="0.75"/>
<path d="M400.9,499.9 a5.5,5.5 0 0 0 5.5,5.5 M418.4,499.9 a8,8 0 0 1 -8,8 a8,8 0 0 1 -2.5,-3" fill="none" stroke="#333" stroke-width="0.75" />
<path d="M349.4,527.5 H399 V547.25 H378.5 V557.5 H349.4 Z" fill="#fff" stroke="#333" stroke-width="1.05" />
<path d="M358.5,557.5 V603.75 H399 M361.9,597.5 V603.75" fill="none" stroke="#333" stroke-width="0.90" />
<polygon points="378.50,547.25 399.00,547.25 399.00,576.50 391.90,576.50 391.90,585.00 399.00,585.00 399.00,597.50 361.90,597.50 361.90,557.50 378.50,557.50" fill="#b9c9bc" stroke="#454" stroke-width="0.6"/>
<path d="M362,548.2 H378.5 V540 H398.5" fill="none" stroke="#333" stroke-width="1.05" stroke-dasharray="2.5 1.2"/>
<rect x="361.90" y="547.30" width="1.80" height="1.80" fill="#fff" stroke="#222" stroke-width="0.75" />
<rect x="378.50" y="539.30" width="1.80" height="1.80" fill="#fff" stroke="#222" stroke-width="0.75" />
<rect x="396.80" y="539.30" width="1.80" height="1.80" fill="#fff" stroke="#222" stroke-width="0.75" />
<rect x="391.90" y="576.50" width="7.10" height="8.50" fill="#fff" stroke="#222" stroke-width="1.05" />
<path d="M393.2,580.7 l3.2,-2 v4 z" fill="#111" stroke="#111" stroke-width="0.30" />
<path d="M399,550 H419.4 M399,557 H419.4 M399,585 H419.4" fill="none" stroke="#333" stroke-width="1.05" />
<rect x="404.20" y="558.00" width="14.50" height="23.30" fill="#fff" stroke="#222" stroke-width="1.35" />
<rect x="405.20" y="559.00" width="12.50" height="21.30" fill="none" stroke="#2a2a2a" stroke-width="0.98" stroke-dasharray="3 0.8"/>
<polyline points="405.20,560.00 411.45,579.30 417.70,560.00" fill="none" stroke="#2a2a2a" stroke-width="0.75"/>
<text x="411.5" y="584" font-size="2.4" fill="#333" text-anchor="middle" font-weight="normal" >CARPORT</text>
<rect x="393.00" y="498.60" width="5.50" height="2.30" fill="#ddd" stroke="#222" stroke-width="0.75" />
<text x="380" y="571.3" font-size="7.4" fill="#24382a" stroke="#24382a" stroke-width="0.15" text-anchor="middle" font-weight="normal" textLength="31" lengthAdjust="spacingAndGlyphs">ORPHEUS</text>
<text x="376.3" y="577.7" font-size="6.8" fill="#24382a" stroke="#24382a" stroke-width="0.15" text-anchor="middle" font-weight="normal" textLength="14" lengthAdjust="spacingAndGlyphs">3 BDR</text>
<circle cx="375.6" cy="587.5" r="6.9" fill="none" stroke="#24382a" stroke-width="0.90"/>
<text x="375.6" y="589.8" font-size="6.6" fill="#24382a" stroke="#24382a" stroke-width="0.15" text-anchor="middle" font-weight="normal" textLength="10.5" lengthAdjust="spacingAndGlyphs">V30</text>
<line x1="478.1" y1="499.9" x2="478.1" y2="524.75" stroke="#222" stroke-width="1.50" />
<polyline points="479.6,500.9 485.6,559 491.6,500.9" fill="none" stroke="#333" stroke-width="0.75"/>
<path d="M479.6,499.9 a5.5,5.5 0 0 0 5.5,5.5 M492.1,499.9 a8,8 0 0 1 -8,8 a8,8 0 0 1 -2.5,-3" fill="none" stroke="#333" stroke-width="0.75" />
<path d="M424.75,524.75 H478.1 V537.5 H453.1 V559.75 H424.75 Z" fill="#fff" stroke="#333" stroke-width="1.05" />
<rect x="434.40" y="559.75" width="43.70" height="38.35" fill="#fff" stroke="#333" stroke-width="0.90" />
<polygon points="453.10,537.50 478.10,537.50 478.10,590.40 437.90,590.40 437.90,559.75 453.10,559.75" fill="#4db7e9" stroke="#246" stroke-width="0.6"/>
<path d="M453.1,540.2 H438.6 V559.5" fill="none" stroke="#333" stroke-width="1.05" stroke-dasharray="2.5 1.2"/>
<rect x="438.20" y="539.60" width="1.80" height="1.80" fill="#fff" stroke="#222" stroke-width="0.75" />
<path d="M441,591 V595.5 H451 V591 M463,591 V595.5 H473.5 V591" fill="none" stroke="#333" stroke-width="0.90" stroke-dasharray="2.2 1"/>
<line x1="437.9" y1="590.4" x2="437.9" y2="598" stroke="#222" stroke-width="0.90" />
<rect x="472.75" y="561.00" width="20.35" height="11.25" fill="#fff" stroke="#222" stroke-width="1.05" />
<line x1="478.1" y1="561" x2="478.1" y2="572.25" stroke="#222" stroke-width="0.90" />
<path d="M473.7,566.8 l3.2,-2 v4 z" fill="#111" stroke="#111" stroke-width="0.30" />
<rect x="479.60" y="573.00" width="12.30" height="22.50" fill="none" stroke="#2a2a2a" stroke-width="0.98" stroke-dasharray="3 0.8"/>
<polyline points="479.60,574.00 485.75,594.50 491.90,574.00" fill="none" stroke="#2a2a2a" stroke-width="0.75"/>
<text x="485.8" y="598" font-size="2.4" fill="#333" text-anchor="middle" font-weight="normal" >CARPORT</text>
<rect x="472.60" y="498.60" width="5.00" height="2.30" fill="#ddd" stroke="#222" stroke-width="0.75" />
<text x="455" y="569.6" font-size="7.4" fill="#0e3e5a" stroke="#0e3e5a" stroke-width="0.15" text-anchor="middle" font-weight="normal" textLength="33" lengthAdjust="spacingAndGlyphs">GERANIUM</text>
<text x="456.3" y="575.8" font-size="6.8" fill="#0e3e5a" stroke="#0e3e5a" stroke-width="0.15" text-anchor="middle" font-weight="normal" textLength="14" lengthAdjust="spacingAndGlyphs">3 BDR</text>
<circle cx="456.5" cy="585.25" r="7" fill="none" stroke="#0e3e5a" stroke-width="0.90"/>
<text x="456.5" y="587.6" font-size="6.6" fill="#0e3e5a" stroke="#0e3e5a" stroke-width="0.15" text-anchor="middle" font-weight="normal" textLength="10.5" lengthAdjust="spacingAndGlyphs">V29</text>
<line x1="551.85" y1="499.9" x2="551.85" y2="524.75" stroke="#222" stroke-width="1.50" />
<polyline points="553.35,500.9 559.35,559 565.35,500.9" fill="none" stroke="#333" stroke-width="0.75"/>
<path d="M553.35,499.9 a5.5,5.5 0 0 0 5.5,5.5 M565.85,499.9 a8,8 0 0 1 -8,8 a8,8 0 0 1 -2.5,-3" fill="none" stroke="#333" stroke-width="0.75" />
<path d="M498.5,524.75 H551.85 V537.5 H526.85 V559.75 H498.5 Z" fill="#fff" stroke="#333" stroke-width="1.05" />
<rect x="508.15" y="559.75" width="43.70" height="38.35" fill="#fff" stroke="#333" stroke-width="0.90" />
<polygon points="526.85,537.50 551.85,537.50 551.85,590.40 511.65,590.40 511.65,559.75 526.85,559.75" fill="#4db7e9" stroke="#246" stroke-width="0.6"/>
<path d="M526.85,540.2 H512.35 V559.5" fill="none" stroke="#333" stroke-width="1.05" stroke-dasharray="2.5 1.2"/>
<rect x="511.95" y="539.60" width="1.80" height="1.80" fill="#fff" stroke="#222" stroke-width="0.75" />
<path d="M514.75,591 V595.5 H524.75 V591 M536.75,591 V595.5 H547.25 V591" fill="none" stroke="#333" stroke-width="0.90" stroke-dasharray="2.2 1"/>
<line x1="511.65" y1="590.4" x2="511.65" y2="598" stroke="#222" stroke-width="0.90" />
<rect x="546.50" y="561.00" width="20.35" height="11.25" fill="#fff" stroke="#222" stroke-width="1.05" />
<line x1="551.85" y1="561" x2="551.85" y2="572.25" stroke="#222" stroke-width="0.90" />
<path d="M547.45,566.8 l3.2,-2 v4 z" fill="#111" stroke="#111" stroke-width="0.30" />
<rect x="553.35" y="573.00" width="12.30" height="22.50" fill="none" stroke="#2a2a2a" stroke-width="0.98" stroke-dasharray="3 0.8"/>
<polyline points="553.35,574.00 559.50,594.50 565.65,574.00" fill="none" stroke="#2a2a2a" stroke-width="0.75"/>
<text x="559.55" y="598" font-size="2.4" fill="#333" text-anchor="middle" font-weight="normal" >CARPORT</text>
<rect x="546.35" y="498.60" width="5.00" height="2.30" fill="#ddd" stroke="#222" stroke-width="0.75" />
<text x="528.75" y="569.6" font-size="7.4" fill="#0e3e5a" stroke="#0e3e5a" stroke-width="0.15" text-anchor="middle" font-weight="normal" textLength="33" lengthAdjust="spacingAndGlyphs">GERANIUM</text>
<text x="530.05" y="575.8" font-size="6.8" fill="#0e3e5a" stroke="#0e3e5a" stroke-width="0.15" text-anchor="middle" font-weight="normal" textLength="14" lengthAdjust="spacingAndGlyphs">3 BDR</text>
<circle cx="530.25" cy="585.25" r="7" fill="none" stroke="#0e3e5a" stroke-width="0.90"/>
<text x="530.25" y="587.6" font-size="6.6" fill="#0e3e5a" stroke="#0e3e5a" stroke-width="0.15" text-anchor="middle" font-weight="normal" textLength="10.5" lengthAdjust="spacingAndGlyphs">V28</text>
<line x1="694.1" y1="499.9" x2="694.1" y2="604.4" stroke="#222" stroke-width="1.35" />
<polyline points="695.6,500.9 704.55,557.5 713.5,500.9" fill="none" stroke="#333" stroke-width="0.75"/>
<path d="M695.6,499.9 a5.5,5.5 0 0 0 5.5,5.5 M714,499.9 a8,8 0 0 1 -8,8 a8,8 0 0 1 -2.5,-3" fill="none" stroke="#333" stroke-width="0.75" />
<polyline points="717.5,500.9 724.25,557.5 731.0,500.9" fill="none" stroke="#333" stroke-width="0.75"/>
<path d="M717.5,499.9 a5.5,5.5 0 0 0 5.5,5.5 M731.5,499.9 a8,8 0 0 1 -8,8 a8,8 0 0 1 -2.5,-3" fill="none" stroke="#333" stroke-width="0.75" />
<line x1="731.9" y1="499.9" x2="731.9" y2="548" stroke="#1a1a1a" stroke-width="1.80" />
<path d="M644.5,533.1 H694.1 V550.6 H674.1 V556.9 H644.5 Z" fill="#fff" stroke="#333" stroke-width="1.05" />
<path d="M652.5,556.9 V604.4 H694.1" fill="none" stroke="#333" stroke-width="1.05" />
<polygon points="674.10,550.60 694.10,550.60 694.10,595.00 686.00,595.00 686.00,597.75 655.40,597.75 655.40,556.90 674.10,556.90" fill="#cfd2ab" stroke="#554" stroke-width="0.6"/>
<path d="M655.6,548 H673.5 V544.4 H694" fill="none" stroke="#333" stroke-width="1.05" stroke-dasharray="2.5 1.2"/>
<line x1="655.4" y1="548" x2="655.4" y2="604" stroke="#333" stroke-width="0.90" stroke-dasharray="2.5 1.2"/>
<rect x="655.60" y="547.30" width="1.60" height="1.60" fill="#333" stroke="#222" stroke-width="0.45" />
<path d="M694.1,558.1 H732.5 M694.1,565.6 H732.5 M694.1,594 H732.5" fill="none" stroke="#444" stroke-width="0.90" />
<rect x="700.40" y="568.10" width="12.85" height="23.15" fill="none" stroke="#2a2a2a" stroke-width="0.98" stroke-dasharray="3 0.8"/>
<polyline points="700.40,569.10 706.83,590.25 713.25,569.10" fill="none" stroke="#2a2a2a" stroke-width="0.75"/>
<rect x="717.90" y="568.10" width="12.50" height="23.15" fill="none" stroke="#2a2a2a" stroke-width="0.98" stroke-dasharray="3 0.8"/>
<polyline points="717.90,569.10 724.15,590.25 730.40,569.10" fill="none" stroke="#2a2a2a" stroke-width="0.75"/>
<text x="707" y="594.3" font-size="2.4" fill="#333" text-anchor="middle" font-weight="normal" >CARPORT</text>
<rect x="693.00" y="575.50" width="1.60" height="6.50" fill="#333" stroke="#222" stroke-width="0.45" />
<path d="M695.5,578.75 l3.4,-2.2 v4.4 z" fill="#111" stroke="#111" stroke-width="0.30" />
<text x="675.4" y="573.9" font-size="7.4" fill="#2a2a14" stroke="#2a2a14" stroke-width="0.15" text-anchor="middle" font-weight="normal" textLength="33.5" lengthAdjust="spacingAndGlyphs">ARETOUSA</text>
<text x="675" y="579.8" font-size="6.8" fill="#2a2a14" stroke="#2a2a14" stroke-width="0.15" text-anchor="middle" font-weight="normal" textLength="14" lengthAdjust="spacingAndGlyphs">3 BDR</text>
<circle cx="676.6" cy="589.1" r="7" fill="none" stroke="#2a2a14" stroke-width="0.90"/>
<text x="676.6" y="591.4" font-size="6.6" fill="#2a2a14" stroke="#2a2a14" stroke-width="0.15" text-anchor="middle" font-weight="normal" textLength="10.5" lengthAdjust="spacingAndGlyphs">V24</text>
<path d="M732.75,540.5 H769.4 V547.4 M732.75,540.5 V558.6 M769.4,543 H773.1 V576" fill="none" stroke="#333" stroke-width="1.05" />
<polygon points="749.40,547.40 769.40,547.40 769.40,576.00 762.00,576.00 762.00,597.50 732.75,597.50 732.75,558.60 749.40,558.60" fill="#b9c9bc" stroke="#454" stroke-width="0.6"/>
<path d="M762,584 H769.6 V604.3 H735 M762,597.5 H769.6" fill="none" stroke="#333" stroke-width="0.90" />
<path d="M733,548.5 H749.4 V541" fill="none" stroke="#333" stroke-width="1.05" stroke-dasharray="2.5 1.2"/>
<rect x="749.40" y="540.50" width="1.60" height="1.60" fill="#333" stroke="#222" stroke-width="0.45" />
<rect x="767.80" y="540.50" width="1.60" height="1.60" fill="#333" stroke="#222" stroke-width="0.45" />
<rect x="732.80" y="547.60" width="1.60" height="1.60" fill="#333" stroke="#222" stroke-width="0.45" />
<rect x="762.00" y="576.00" width="23.50" height="8.00" fill="#fff" stroke="#222" stroke-width="1.05" />
<path d="M763.5,580 l3.2,-2 v4 z" fill="#111" stroke="#111" stroke-width="0.30" />
<line x1="769.4" y1="576" x2="769.4" y2="584" stroke="#222" stroke-width="0.90" />
<path d="M785.5,576 l-4.5,0 M785.5,584 a6,6 0 0 0 -5,-5" fill="none" stroke="#222" stroke-width="1.35" />
<path d="M725.5,597.5 V604 H735 V613 M729,597.5 V602" fill="none" stroke="#333" stroke-width="1.05" />
<text x="748.3" y="577" font-size="7.4" fill="#24382a" stroke="#24382a" stroke-width="0.15" text-anchor="middle" font-weight="normal" transform="rotate(-90 748.3 577)" dominant-baseline="central" textLength="31" lengthAdjust="spacingAndGlyphs">ORPHEUS</text>
<circle cx="760" cy="563" r="6.9" fill="none" stroke="#24382a" stroke-width="0.90"/>
<text x="760" y="563" font-size="6.6" fill="#24382a" stroke="#24382a" stroke-width="0.15" text-anchor="middle" font-weight="normal" transform="rotate(-90 760 563)" dominant-baseline="central" textLength="10.5" lengthAdjust="spacingAndGlyphs">V23</text>
<path d="M707,240.3 H816 C834,240.3 847,255 845,277 L818,425 C814,450 805,465 787,465 H707" fill="none" stroke="#333" stroke-width="1.20" />
<path d="M705,246.9 H814 C830,246.9 840,258 838.5,275 L812.5,425 C809,447 800,458.75 786,458.75 H705" fill="none" stroke="#222" stroke-width="1.80" />
<line x1="704.5" y1="312.5" x2="832" y2="312.5" stroke="#1a1a1a" stroke-width="1.80" />
<line x1="704.5" y1="385.25" x2="819.5" y2="385.25" stroke="#1a1a1a" stroke-width="1.80" />
<rect x="763.75" y="281.90" width="18.15" height="26.60" fill="#fff" stroke="#333" stroke-width="1.05" />
<polygon points="723.10,251.00 749.40,251.00 749.40,256.50 781.90,256.50 781.90,281.90 763.75,281.90 763.75,300.00 745.60,300.00 745.60,302.50 724.40,302.50 724.40,297.75 720.40,297.75 720.40,280.00 723.10,280.00" fill="#e30613" stroke="none" stroke-width="0.6"/>
<rect x="724.40" y="297.75" width="21.20" height="4.75" fill="#d40511"/>
<line x1="736" y1="297.75" x2="736" y2="302.5" stroke="#a00" stroke-width="0.75" />
<path d="M779.4,282 V297.5 H763.75" fill="none" stroke="#222" stroke-width="1.05" />
<rect x="777.80" y="296.20" width="1.80" height="1.60" fill="#222" stroke="#222" stroke-width="0.45" />
<rect x="763.75" y="304.40" width="18.15" height="4.10" fill="#fff" stroke="#222" stroke-width="1.05" />
<rect x="771.00" y="305.20" width="5.00" height="2.60" fill="#222"/>
<path d="M765,305.5 h4 l-2,2.5" fill="none" stroke="#222" stroke-width="0.75" />
<path d="M733,268 H728.5 V280 H733" fill="none" stroke="#6a080c" stroke-width="1.50" />
<path d="M735,271.5 l3.5,2.5 l-3.5,2.5 z" fill="#4a0508" stroke="#4a0508" stroke-width="0.45" />
<rect x="733.00" y="269.50" width="6.00" height="9.50" fill="none" stroke="#6a080c" stroke-width="0.75" />
<text x="757.3" y="278" font-size="6.6" fill="#6a080c" stroke="#6a080c" stroke-width="0.15" text-anchor="middle" font-weight="normal" transform="rotate(-90 757.3 278)" dominant-baseline="central" textLength="44" lengthAdjust="spacingAndGlyphs">ARCHIPELAGO</text>
<circle cx="769.1" cy="270.6" r="6.3" fill="none" stroke="#6a080c" stroke-width="0.90"/>
<text x="769.1" y="270.6" font-size="5.6" fill="#6a080c" stroke="#6a080c" stroke-width="0.15" text-anchor="middle" font-weight="normal" transform="rotate(-90 769.1 270.6)" dominant-baseline="central">V5</text>
<polyline points="707.5,248 715,279 722,248" fill="none" stroke="#444" stroke-width="0.5"/>
<path d="M707,246.9 a6.5,6.5 0 0 0 6.5,6.5 M721,246.9 a7,7 0 0 1 -7,6.5" fill="none" stroke="#333" stroke-width="0.75" />
<line x1="722.5" y1="246.9" x2="722.5" y2="312.5" stroke="#444" stroke-width="0.90" />
<line x1="707" y1="280" x2="722.5" y2="280" stroke="#444" stroke-width="0.90" />
<rect x="708.00" y="285.00" width="12.00" height="23.50" fill="none" stroke="#2a2a2a" stroke-width="0.98" stroke-dasharray="3 0.8"/>
<polyline points="708.00,307.50 714.00,286.00 720.00,307.50" fill="none" stroke="#2a2a2a" stroke-width="0.75"/>
<line x1="715.25" y1="312.5" x2="715.25" y2="385.25" stroke="#444" stroke-width="0.90" />
<rect x="723.10" y="315.00" width="25.00" height="12.50" fill="none" stroke="#444" stroke-width="0.90" stroke-dasharray="2 1"/>
<polyline points="747,316 724.5,321.2 747,326.5" fill="none" stroke="#444" stroke-width="0.5"/>
<rect x="722.00" y="312.50" width="2.00" height="2.50" fill="none" stroke="#222" stroke-width="0.60" />
<rect x="747.00" y="312.50" width="2.00" height="2.50" fill="none" stroke="#222" stroke-width="0.60" />
<path d="M750,321 L820,314.75 M750,321.5 L825,327" fill="none" stroke="#444" stroke-width="0.90" />
<path d="M820.5,313 a8,8 0 0 0 6,9 M824,328.5 a4,4 0 0 1 5,-3" fill="none" stroke="#333" stroke-width="0.90" />
<line x1="763.75" y1="328.5" x2="831" y2="328.5" stroke="#333" stroke-width="1.05" />
<path d="M778.75,328.5 V345 M781.9,341.9 V368.75 H748.75 V374.4 H722.9 V357.5 H715.25 M778.75,341.9 H781.9" fill="none" stroke="#333" stroke-width="1.05" />
<polygon points="720.60,328.50 763.75,328.50 763.75,345.00 778.75,345.00 778.75,365.00 748.75,365.00 748.75,368.10 746.25,368.10 746.25,371.25 726.25,371.25 726.25,357.50 728.10,357.50 728.10,346.25 720.60,346.25" fill="#e30613" stroke="none" stroke-width="0.6"/>
<rect x="728.75" y="346.90" width="8.75" height="10.00" fill="#d40511" stroke="#6a080c" stroke-width="0.90" />
<path d="M733.5,350 l3,1.9 l-3,1.9 z" fill="#4a0508" stroke="#4a0508" stroke-width="0.45" />
<rect x="776.50" y="329.00" width="1.80" height="1.60" fill="#222" stroke="#222" stroke-width="0.45" />
<text x="757.8" y="346.5" font-size="6.6" fill="#6a080c" stroke="#6a080c" stroke-width="0.15" text-anchor="middle" font-weight="normal" transform="rotate(-90 757.8 346.5)" dominant-baseline="central" textLength="44" lengthAdjust="spacingAndGlyphs">ARCHIPELAGO</text>
<circle cx="768.1" cy="355" r="6.3" fill="none" stroke="#6a080c" stroke-width="0.90"/>
<text x="768.1" y="355" font-size="5.6" fill="#6a080c" stroke="#6a080c" stroke-width="0.15" text-anchor="middle" font-weight="normal" transform="rotate(-90 768.1 355)" dominant-baseline="central">V6</text>
<rect x="722.90" y="395.25" width="22.70" height="7.25" fill="#fff" stroke="#333" stroke-width="1.05" />
<path d="M745.6,398.5 H781.9 V401.5 H794.4 V438.75 H781.9 V441.9 H748.75 V446.9 H726.9" fill="none" stroke="#333" stroke-width="1.05" />
<rect x="763.75" y="402.50" width="15.00" height="15.60" fill="#fff" stroke="#333" stroke-width="1.05" />
<polygon points="720.60,402.50 763.75,402.50 763.75,418.10 778.75,418.10 778.75,438.75 746.90,438.75 746.90,444.40 726.25,444.40 726.25,418.75 720.60,418.75" fill="#e30613" stroke="none" stroke-width="0.6"/>
<rect x="726.90" y="420.00" width="11.20" height="10.60" fill="#fff" stroke="#333" stroke-width="1.05" />
<path d="M732.5,422.6 l4.2,2.7 l-4.2,2.7 z" fill="#111" stroke="#111" stroke-width="0.45" />
<rect x="727.50" y="422.00" width="2.00" height="2.00" fill="#222" stroke="#222" stroke-width="0.45" />
<rect x="727.50" y="427.00" width="2.00" height="2.00" fill="#222" stroke="#222" stroke-width="0.45" />
<text x="757.8" y="419" font-size="6.6" fill="#6a080c" stroke="#6a080c" stroke-width="0.15" text-anchor="middle" font-weight="normal" transform="rotate(-90 757.8 419)" dominant-baseline="central" textLength="40" lengthAdjust="spacingAndGlyphs">ARCHIPELAGO</text>
<circle cx="768.5" cy="428" r="6.3" fill="none" stroke="#6a080c" stroke-width="0.90"/>
<text x="768.5" y="428" font-size="5.6" fill="#6a080c" stroke="#6a080c" stroke-width="0.15" text-anchor="middle" font-weight="normal" transform="rotate(-90 768.5 428)" dominant-baseline="central">V7</text>
<rect x="707.50" y="390.60" width="12.50" height="22.40" fill="none" stroke="#2a2a2a" stroke-width="0.98" stroke-dasharray="3 0.8"/>
<polyline points="707.50,412.00 713.75,391.60 720.00,412.00" fill="none" stroke="#2a2a2a" stroke-width="0.75"/>
<line x1="707" y1="414.5" x2="722.5" y2="414.5" stroke="#444" stroke-width="0.90" />
<line x1="722.5" y1="385.25" x2="722.5" y2="402.5" stroke="#444" stroke-width="0.90" />
<polyline points="707.5,457 716,421 726,457" fill="none" stroke="#444" stroke-width="0.5"/>
<line x1="707" y1="420" x2="726.25" y2="420" stroke="#444" stroke-width="0.90" />
<line x1="726.25" y1="420" x2="726.25" y2="458" stroke="#444" stroke-width="0.90" />
<path d="M707,450.5 a8,8 0 0 1 8,8 M717,458.5 a4,4 0 0 1 4,-4" fill="none" stroke="#333" stroke-width="0.75" />
<polyline points="993.4,168.3 985.8,257.3 977.5,345.5 963.5,433.2 951.9,522.3 937,638.5" fill="none" stroke="#222" stroke-width="1.1"/>
<path d="M987.2,241.4 H994.4 V461.5 H959.8 M981.6,301.5 H994.4 M966.6,413.6 H994.4" fill="none" stroke="#333" stroke-width="1.05" />
<polyline points="887.5,168.75 881.9,256.9 867.8,345.5 852.5,433.2 837.2,522.3" fill="none" stroke="#222" stroke-width="1.1"/>
<path d="M882.2,168.5 L876,250 L863,338 L850.5,426 L832,510 Q830,521 839,522.3" fill="none" stroke="#333" stroke-width="1.05" />
<line x1="887.5" y1="168.75" x2="993.4" y2="168.75" stroke="#222" stroke-width="1.35" />
<line x1="881.9" y1="256.9" x2="985.8341573033707" y2="256.9" stroke="#1a1a1a" stroke-width="1.80" />
<line x1="867.8" y1="345.5" x2="977.5" y2="345.5" stroke="#1a1a1a" stroke-width="1.80" />
<line x1="852.5" y1="433.2" x2="963.5" y2="433.2" stroke="#1a1a1a" stroke-width="1.80" />
<line x1="837.3" y1="522.3" x2="951.9" y2="522.3" stroke="#1a1a1a" stroke-width="1.80" />
<rect x="887.50" y="168.75" width="15.60" height="14.55" fill="none" stroke="#333" stroke-width="0.90" />
<path d="M887.5,168.75 L903.1,176 L887.5,183.3 M887.5,176 L899.1,168.75 M887.5,176 L899.1,183.3 M892.5,168.75 L888.5,183.3" fill="none" stroke="#333" stroke-width="0.75" />
<path d="M882.0,196 Q882.5,184 891.5,183.5 H903" fill="none" stroke="#333" stroke-width="0.90" />
<rect x="903.75" y="168.75" width="25.65" height="14.35" fill="#fff" stroke="#1a1a1a" stroke-width="1.95" />
<rect x="905.00" y="169.95" width="23.20" height="12.05" fill="none" stroke="#444" stroke-width="0.75" stroke-dasharray="2 1"/>
<polyline points="906,170.75 927.5,175.8 906,181.8" fill="none" stroke="#555" stroke-width="0.5"/>
<path d="M896.25,183.5 H985 V241.9 H896.25 V210 M896.25,183.5 V203.75" fill="none" stroke="#333" stroke-width="1.05" />
<path d="M886,203.75 H896.25 M886,210 H896.25" fill="none" stroke="#333" stroke-width="1.05" />
<path d="M886.5,209.8 l0,-4.5 a4.5,4.5 0 0 1 3.5,4.5 z" fill="none" stroke="#222" stroke-width="0.75" />
<rect x="929.40" y="180.60" width="14.35" height="2.90" fill="#fff" stroke="#333" stroke-width="0.90" />
<rect x="912.50" y="241.90" width="32.50" height="3.10" fill="#fff" stroke="#333" stroke-width="0.90" />
<polygon points="903.75,183.50 940.00,183.50 940.00,202.50 949.75,202.50 949.75,223.10 941.25,223.10 941.25,241.90 916.90,241.90 916.90,230.60 905.00,230.60 905.00,223.10 901.90,223.10 901.90,210.00 903.75,210.00" fill="#e5e5e5" stroke="#333" stroke-width="0.7"/>
<rect x="904.00" y="203.75" width="8.50" height="6.25" fill="#fff" stroke="#222" stroke-width="1.05" />
<rect x="908.20" y="204.20" width="4.10" height="5.40" fill="#222"/>
<path d="M909.2,205.2 l2.4,1.7 l-2.4,1.7 z" fill="#fff" stroke="#fff" stroke-width="0.30" />
<path d="M962.5,183.5 V192.5 M962.5,233.1 V241.9" fill="none" stroke="#1a1a1a" stroke-width="1.80" />
<rect x="958.10" y="192.50" width="20.65" height="40.60" fill="#fff" stroke="#222" stroke-width="1.20" />
<line x1="958.1" y1="233.1" x2="974" y2="233.1" stroke="#1a1a1a" stroke-width="1.80" />
<line x1="958.1" y1="192.5" x2="968" y2="192.5" stroke="#1a1a1a" stroke-width="1.65" />
<path d="M967,192.5 C966,205 969,210 972.5,217 S973,228 972.5,233" fill="none" stroke="#444" stroke-width="1.05" />
<path d="M968,192.5 C967.3,205 970,210 973.7,217 S974.2,228 973.5,233" fill="none" stroke="#777" stroke-width="0.75" />
<text x="926.5" y="208.8" font-size="5.4" fill="#666" stroke="#666" stroke-width="0.15" text-anchor="middle" font-weight="normal" textLength="16.5" lengthAdjust="spacingAndGlyphs">4 BDR</text>
<text x="925.9" y="217.5" font-size="7" fill="#222" stroke="#222" stroke-width="0.15" text-anchor="middle" font-weight="normal" textLength="34.5" lengthAdjust="spacingAndGlyphs">AMALTHEIA</text>
<circle cx="929.4" cy="227.25" r="6.6" fill="none" stroke="#333" stroke-width="0.90"/>
<text x="929.4" y="229.5" font-size="6.4" fill="#333" stroke="#333" stroke-width="0.15" text-anchor="middle" font-weight="normal" textLength="10.5" lengthAdjust="spacingAndGlyphs">V3A</text>
<rect x="882.20" y="257.75" width="9.05" height="14.55" fill="none" stroke="#333" stroke-width="0.90" />
<path d="M882.2,257.75 L891.25,265 L882.2,272.3 M882.2,265 L887.25,257.75 M882.2,265 L887.25,272.3 M887.2,257.75 L883.2,272.3" fill="none" stroke="#333" stroke-width="0.75" />
<path d="M876.7,285 Q877.2,273 886.2,272.5 H891.15" fill="none" stroke="#333" stroke-width="0.90" />
<rect x="891.90" y="257.75" width="25.65" height="14.35" fill="#fff" stroke="#1a1a1a" stroke-width="1.20" />
<rect x="893.15" y="258.95" width="23.20" height="12.05" fill="none" stroke="#444" stroke-width="0.75" stroke-dasharray="2 1"/>
<polyline points="894.15,259.75 915.65,264.8 894.15,270.8" fill="none" stroke="#555" stroke-width="0.5"/>
<path d="M884.4,272.5 H973.15 V330.9 H884.4 V299 M884.4,272.5 V292.75" fill="none" stroke="#333" stroke-width="1.05" />
<path d="M874.15,292.75 H884.4 M874.15,299 H884.4" fill="none" stroke="#333" stroke-width="1.05" />
<path d="M874.65,298.8 l0,-4.5 a4.5,4.5 0 0 1 3.5,4.5 z" fill="none" stroke="#222" stroke-width="0.75" />
<rect x="917.55" y="269.60" width="14.35" height="2.90" fill="#fff" stroke="#333" stroke-width="0.90" />
<rect x="900.65" y="330.90" width="32.50" height="3.10" fill="#fff" stroke="#333" stroke-width="0.90" />
<polygon points="891.90,272.50 928.15,272.50 928.15,291.50 937.90,291.50 937.90,312.10 929.40,312.10 929.40,330.90 905.05,330.90 905.05,319.60 893.15,319.60 893.15,312.10 890.05,312.10 890.05,299.00 891.90,299.00" fill="#e5e5e5" stroke="#333" stroke-width="0.7"/>
<rect x="892.15" y="292.75" width="8.50" height="6.25" fill="#fff" stroke="#222" stroke-width="1.05" />
<rect x="896.35" y="293.20" width="4.10" height="5.40" fill="#222"/>
<path d="M897.35,294.2 l2.4,1.7 l-2.4,1.7 z" fill="#fff" stroke="#fff" stroke-width="0.30" />
<path d="M950.65,272.5 V281.5 M950.65,322.1 V330.9" fill="none" stroke="#1a1a1a" stroke-width="1.80" />
<rect x="946.25" y="281.50" width="20.65" height="40.60" fill="#fff" stroke="#222" stroke-width="1.20" />
<line x1="946.25" y1="322.1" x2="962.15" y2="322.1" stroke="#1a1a1a" stroke-width="1.80" />
<line x1="946.25" y1="281.5" x2="956.15" y2="281.5" stroke="#1a1a1a" stroke-width="1.65" />
<path d="M955.15,281.5 C954.15,294 957.15,299 960.65,306 S961.15,317 960.65,322" fill="none" stroke="#444" stroke-width="1.05" />
<path d="M956.15,281.5 C955.4499999999999,294 958.15,299 961.85,306 S962.35,317 961.65,322" fill="none" stroke="#777" stroke-width="0.75" />
<text x="914.65" y="297.8" font-size="5.4" fill="#666" stroke="#666" stroke-width="0.15" text-anchor="middle" font-weight="normal" textLength="16.5" lengthAdjust="spacingAndGlyphs">4 BDR</text>
<text x="914.05" y="306.5" font-size="7" fill="#222" stroke="#222" stroke-width="0.15" text-anchor="middle" font-weight="normal" textLength="34.5" lengthAdjust="spacingAndGlyphs">AMALTHEIA</text>
<circle cx="917.55" cy="316.25" r="6.6" fill="none" stroke="#333" stroke-width="0.90"/>
<text x="917.55" y="318.6" font-size="6.6" fill="#333" stroke="#333" stroke-width="0.15" text-anchor="middle" font-weight="normal" >V3</text>
<rect x="867.80" y="346.05" width="9.30" height="14.55" fill="none" stroke="#333" stroke-width="0.90" />
<path d="M867.8,346.05 L877.1,353.3 L867.8,360.6 M867.8,353.3 L873.1,346.05 M867.8,353.3 L873.1,360.6 M872.8,346.05 L868.8,360.6" fill="none" stroke="#333" stroke-width="0.75" />
<path d="M862.3,373.3 Q862.8,361.3 871.8,360.8 H877" fill="none" stroke="#333" stroke-width="0.90" />
<rect x="877.75" y="346.05" width="25.65" height="14.35" fill="#fff" stroke="#1a1a1a" stroke-width="1.20" />
<rect x="879.00" y="347.25" width="23.20" height="12.05" fill="none" stroke="#444" stroke-width="0.75" stroke-dasharray="2 1"/>
<polyline points="880,348.05 901.5,353.1 880,359.1" fill="none" stroke="#555" stroke-width="0.5"/>
<path d="M870.25,360.8 H959 V419.20000000000005 H870.25 V387.3 M870.25,360.8 V381.05" fill="none" stroke="#333" stroke-width="1.05" />
<path d="M860,381.05 H870.25 M860,387.3 H870.25" fill="none" stroke="#333" stroke-width="1.05" />
<path d="M860.5,387.1 l0,-4.5 a4.5,4.5 0 0 1 3.5,4.5 z" fill="none" stroke="#222" stroke-width="0.75" />
<rect x="903.40" y="357.90" width="14.35" height="2.90" fill="#fff" stroke="#333" stroke-width="0.90" />
<rect x="886.50" y="419.20" width="32.50" height="3.10" fill="#fff" stroke="#333" stroke-width="0.90" />
<polygon points="877.75,360.80 914.00,360.80 914.00,379.80 923.75,379.80 923.75,400.40 915.25,400.40 915.25,419.20 890.90,419.20 890.90,407.90 879.00,407.90 879.00,400.40 875.90,400.40 875.90,387.30 877.75,387.30" fill="#e5e5e5" stroke="#333" stroke-width="0.7"/>
<rect x="878.00" y="381.05" width="8.50" height="6.25" fill="#fff" stroke="#222" stroke-width="1.05" />
<rect x="882.20" y="381.50" width="4.10" height="5.40" fill="#222"/>
<path d="M883.2,382.5 l2.4,1.7 l-2.4,1.7 z" fill="#fff" stroke="#fff" stroke-width="0.30" />
<path d="M936.5,360.8 V369.8 M936.5,410.4 V419.20000000000005" fill="none" stroke="#1a1a1a" stroke-width="1.80" />
<rect x="932.10" y="369.80" width="20.65" height="40.60" fill="#fff" stroke="#222" stroke-width="1.20" />
<line x1="932.1" y1="410.4" x2="948" y2="410.4" stroke="#1a1a1a" stroke-width="1.80" />
<line x1="932.1" y1="369.8" x2="942" y2="369.8" stroke="#1a1a1a" stroke-width="1.65" />
<path d="M941,369.8 C940,382.3 943,387.3 946.5,394.3 S947,405.3 946.5,410.3" fill="none" stroke="#444" stroke-width="1.05" />
<path d="M942,369.8 C941.3,382.3 944,387.3 947.7,394.3 S948.2,405.3 947.5,410.3" fill="none" stroke="#777" stroke-width="0.75" />
<text x="898.0" y="386.1" font-size="5.4" fill="#666" stroke="#666" stroke-width="0.15" text-anchor="middle" font-weight="normal" textLength="16.5" lengthAdjust="spacingAndGlyphs">4 BDR</text>
<text x="897.4" y="394.8" font-size="7" fill="#222" stroke="#222" stroke-width="0.15" text-anchor="middle" font-weight="normal" textLength="34.5" lengthAdjust="spacingAndGlyphs">AMALTHEIA</text>
<circle cx="900.9" cy="404.55" r="6.6" fill="none" stroke="#333" stroke-width="0.90"/>
<text x="900.9" y="406.9" font-size="6.6" fill="#333" stroke="#333" stroke-width="0.15" text-anchor="middle" font-weight="normal" >V2</text>
<rect x="852.50" y="434.35" width="12.10" height="14.55" fill="none" stroke="#333" stroke-width="0.90" />
<path d="M852.5,434.35 L864.6,441.6 L852.5,448.90000000000003 M852.5,441.6 L860.6,434.35 M852.5,441.6 L860.6,448.90000000000003 M857.5,434.35 L853.5,448.90000000000003" fill="none" stroke="#333" stroke-width="0.75" />
<path d="M847.0,461.6 Q847.5,449.6 856.5,449.1 H864.5" fill="none" stroke="#333" stroke-width="0.90" />
<rect x="865.25" y="434.35" width="25.65" height="14.35" fill="#fff" stroke="#1a1a1a" stroke-width="1.20" />
<rect x="866.50" y="435.55" width="23.20" height="12.05" fill="none" stroke="#444" stroke-width="0.75" stroke-dasharray="2 1"/>
<polyline points="867.5,436.35 889.0,441.40000000000003 867.5,447.40000000000003" fill="none" stroke="#555" stroke-width="0.5"/>
<path d="M857.75,449.1 H946.5 V507.5 H857.75 V475.6 M857.75,449.1 V469.35" fill="none" stroke="#333" stroke-width="1.05" />
<path d="M847.5,469.35 H857.75 M847.5,475.6 H857.75" fill="none" stroke="#333" stroke-width="1.05" />
<path d="M848.0,475.40000000000003 l0,-4.5 a4.5,4.5 0 0 1 3.5,4.5 z" fill="none" stroke="#222" stroke-width="0.75" />
<rect x="890.90" y="446.20" width="14.35" height="2.90" fill="#fff" stroke="#333" stroke-width="0.90" />
<rect x="874.00" y="507.50" width="32.50" height="3.10" fill="#fff" stroke="#333" stroke-width="0.90" />
<polygon points="865.25,449.10 901.50,449.10 901.50,468.10 911.25,468.10 911.25,488.70 902.75,488.70 902.75,507.50 878.40,507.50 878.40,496.20 866.50,496.20 866.50,488.70 863.40,488.70 863.40,475.60 865.25,475.60" fill="#e5e5e5" stroke="#333" stroke-width="0.7"/>
<rect x="865.50" y="469.35" width="8.50" height="6.25" fill="#fff" stroke="#222" stroke-width="1.05" />
<rect x="869.70" y="469.80" width="4.10" height="5.40" fill="#222"/>
<path d="M870.7,470.8 l2.4,1.7 l-2.4,1.7 z" fill="#fff" stroke="#fff" stroke-width="0.30" />
<path d="M924.0,449.1 V458.1 M924.0,498.70000000000005 V507.5" fill="none" stroke="#1a1a1a" stroke-width="1.80" />
<rect x="919.60" y="458.10" width="20.65" height="40.60" fill="#fff" stroke="#222" stroke-width="1.20" />
<line x1="919.6" y1="498.70000000000005" x2="935.5" y2="498.70000000000005" stroke="#1a1a1a" stroke-width="1.80" />
<line x1="919.6" y1="458.1" x2="929.5" y2="458.1" stroke="#1a1a1a" stroke-width="1.65" />
<path d="M928.5,458.1 C927.5,470.6 930.5,475.6 934.0,482.6 S934.5,493.6 934.0,498.6" fill="none" stroke="#444" stroke-width="1.05" />
<path d="M929.5,458.1 C928.8,470.6 931.5,475.6 935.2,482.6 S935.7,493.6 935.0,498.6" fill="none" stroke="#777" stroke-width="0.75" />
<text x="884.8" y="474.40000000000003" font-size="5.4" fill="#666" stroke="#666" stroke-width="0.15" text-anchor="middle" font-weight="normal" textLength="16.5" lengthAdjust="spacingAndGlyphs">4 BDR</text>
<text x="884.1999999999999" y="483.1" font-size="7" fill="#222" stroke="#222" stroke-width="0.15" text-anchor="middle" font-weight="normal" textLength="34.5" lengthAdjust="spacingAndGlyphs">AMALTHEIA</text>
<circle cx="887.6999999999999" cy="492.85" r="6.6" fill="none" stroke="#333" stroke-width="0.90"/>
<text x="887.6999999999999" y="495.20000000000005" font-size="6.6" fill="#333" stroke="#333" stroke-width="0.15" text-anchor="middle" font-weight="normal" >V1</text>
<path d="M831.5,550.6 H830 Q827.5,550.6 826.8,553.5 L819.3,586 C817.5,600 818,612 823,622 C828,632 836,638.8 848,638.8 H937" fill="none" stroke="#333" stroke-width="1.05" />
<path d="M831.7,551.7 L826.8,586.4 V612.4" fill="none" stroke="#333" stroke-width="1.05" />
<path d="M831.2,551.7 H845 V586" fill="none" stroke="#1a1a1a" stroke-width="1.65" />
<path d="M826,616 H939 M822,625.1 H938.3" fill="none" stroke="#444" stroke-width="0.90" />
<path d="M848.6,582.4 V549 H928.4" fill="none" stroke="#333" stroke-width="1.05" />
<path d="M928.4,549 V599.9 H848.6" fill="none" stroke="#1a1a1a" stroke-width="1.20" />
<rect x="844.80" y="582.40" width="24.80" height="29.50" fill="#fff" stroke="#222" stroke-width="1.05" />
<rect x="869.60" y="586.70" width="12.40" height="25.20" fill="none" stroke="#333" stroke-width="0.90" />
<rect x="882.00" y="586.70" width="12.50" height="25.20" fill="none" stroke="#333" stroke-width="0.90" />
<rect x="894.50" y="586.70" width="12.70" height="25.20" fill="none" stroke="#333" stroke-width="0.90" />
<rect x="907.20" y="586.70" width="12.70" height="25.20" fill="none" stroke="#333" stroke-width="0.90" />
<line x1="848.6" y1="599.9" x2="928.4" y2="599.9" stroke="#1a1a1a" stroke-width="1.20" />
<line x1="826" y1="612.2" x2="919.9" y2="612.2" stroke="#222" stroke-width="1.35" />
<line x1="844.8" y1="582.4" x2="844.8" y2="612" stroke="#1a1a1a" stroke-width="1.50" />
<path d="M826.5,587.1 H844.8" fill="none" stroke="#1a1a1a" stroke-width="1.65" />
<path d="M826.5,594.1 H843.5 M826.5,604 H843.5 M835,587.1 V594.1 M835,604 V612 M843.6,587 V612" fill="none" stroke="#222" stroke-width="1.20" />
<rect x="827.50" y="588.30" width="6.50" height="5.00" fill="none" stroke="#333" stroke-width="0.75" />
<rect x="836.00" y="588.30" width="6.50" height="5.00" fill="none" stroke="#333" stroke-width="0.75" />
<rect x="827.50" y="605.00" width="6.50" height="6.00" fill="none" stroke="#333" stroke-width="0.75" />
<rect x="836.00" y="605.00" width="6.50" height="6.00" fill="none" stroke="#333" stroke-width="0.75" />
<text x="835" y="600" font-size="2.2" fill="#222" text-anchor="middle" font-weight="normal" >GENERATOR</text>
<rect x="919.90" y="523.30" width="24.10" height="15.30" fill="none" stroke="#1a1a1a" stroke-width="1.35" />
<rect x="919.90" y="539.25" width="24.90" height="12.45" fill="none" stroke="#333" stroke-width="0.90" />
<rect x="919.90" y="551.70" width="24.90" height="12.70" fill="none" stroke="#333" stroke-width="0.90" />
<line x1="919.9" y1="564.4" x2="919.9" y2="611.9" stroke="#333" stroke-width="0.90" />
<path d="M948.5,523 L944.4,564.4" fill="none" stroke="#333" stroke-width="0.90" />
<text x="932" y="532" font-size="2.4" fill="#222" text-anchor="middle" font-weight="normal" >GUARD</text>
<text x="932.5" y="543.6" font-size="2.4" fill="#222" text-anchor="middle" font-weight="normal" >COMMON</text>
<text x="932.5" y="546.8" font-size="2.4" fill="#222" text-anchor="middle" font-weight="normal" >STORAGE</text>
<text x="932.5" y="550" font-size="2.4" fill="#222" text-anchor="middle" font-weight="normal" >7</text>
<text x="932.5" y="556.2" font-size="2.4" fill="#222" text-anchor="middle" font-weight="normal" >COMMON</text>
<text x="932.5" y="559.4" font-size="2.4" fill="#222" text-anchor="middle" font-weight="normal" >STORAGE</text>
<text x="932.5" y="562.8" font-size="2.4" fill="#222" text-anchor="middle" font-weight="normal" >6</text>
<text x="874" y="563.3" font-size="2.4" fill="#222" text-anchor="middle" font-weight="normal" >MECHAN.</text>
<text x="874" y="567.5" font-size="2.4" fill="#222" text-anchor="middle" font-weight="normal" >AREA</text>
<text x="857" y="591.5" font-size="2.6" fill="#222" text-anchor="middle" font-weight="normal" >STORE 1</text>
<text x="857" y="598" font-size="2.3" fill="#222" text-anchor="middle" font-weight="normal" >COMMON</text>
<text x="857" y="602" font-size="2.3" fill="#222" text-anchor="middle" font-weight="normal" >STORAGE</text>
<text x="857" y="605.5" font-size="2.6" fill="#222" text-anchor="middle" font-weight="normal" >1</text>
<text x="875.8" y="598" font-size="2.3" fill="#222" text-anchor="middle" font-weight="normal" >COMMON</text>
<text x="875.8" y="602" font-size="2.3" fill="#222" text-anchor="middle" font-weight="normal" >STORAGE</text>
<text x="875.8" y="605.5" font-size="2.6" fill="#222" text-anchor="middle" font-weight="normal" >2</text>
<text x="888.2" y="598" font-size="2.3" fill="#222" text-anchor="middle" font-weight="normal" >COMMON</text>
<text x="888.2" y="602" font-size="2.3" fill="#222" text-anchor="middle" font-weight="normal" >STORAGE</text>
<text x="888.2" y="605.5" font-size="2.6" fill="#222" text-anchor="middle" font-weight="normal" >3</text>
<text x="900.8" y="598" font-size="2.3" fill="#222" text-anchor="middle" font-weight="normal" >COMMON</text>
<text x="900.8" y="602" font-size="2.3" fill="#222" text-anchor="middle" font-weight="normal" >STORAGE</text>
<text x="900.8" y="605.5" font-size="2.6" fill="#222" text-anchor="middle" font-weight="normal" >4</text>
<text x="913.5" y="598" font-size="2.3" fill="#222" text-anchor="middle" font-weight="normal" >COMMON</text>
<text x="913.5" y="602" font-size="2.3" fill="#222" text-anchor="middle" font-weight="normal" >STORAGE</text>
<text x="913.5" y="605.5" font-size="2.6" fill="#222" text-anchor="middle" font-weight="normal" >5</text>
</svg>
</body></html>
